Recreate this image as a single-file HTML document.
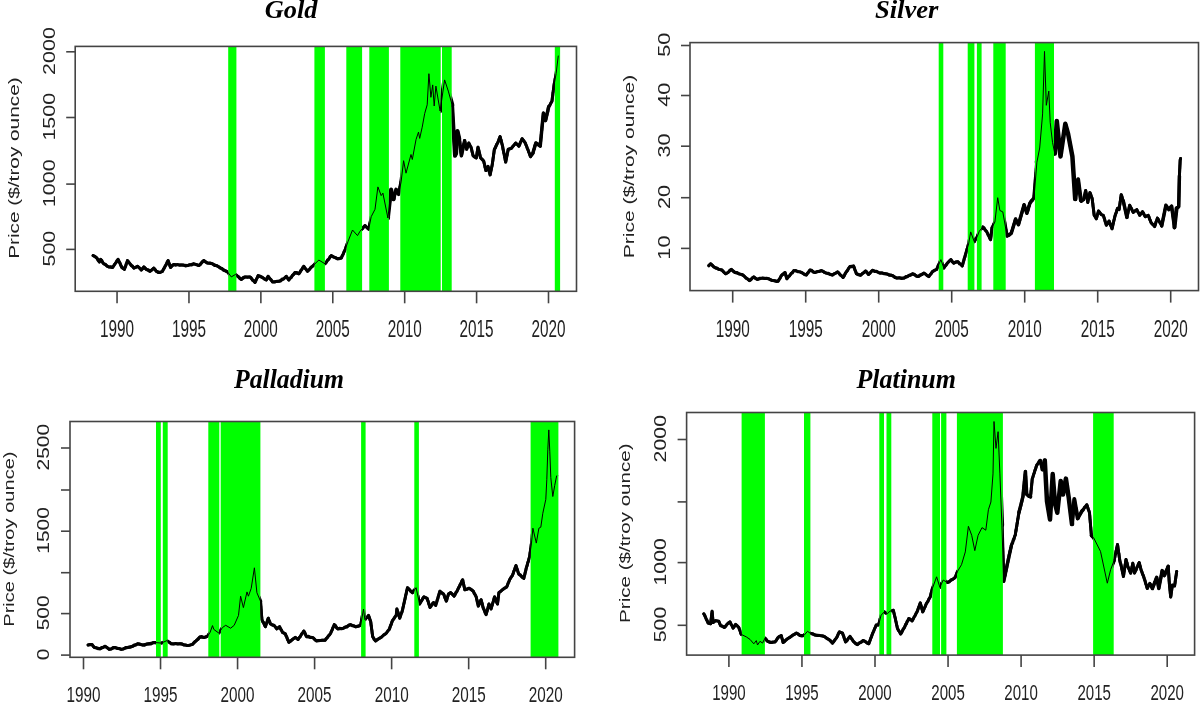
<!DOCTYPE html><html><head><meta charset="utf-8"><title>Precious metals prices</title><style>html,body{margin:0;padding:0;background:#fff;overflow:hidden}svg{display:block;will-change:transform;filter:blur(0.35px)}</style></head><body>
<svg width="1200" height="704" viewBox="0 0 1200 704">
<defs>
<clipPath id="c_gold"><rect x="55.2" y="26.4" width="173" height="284.9"/><rect x="236.4" y="26.4" width="78" height="284.9"/><rect x="324.9" y="26.4" width="21.4" height="284.9"/><rect x="362.1" y="26.4" width="7.2" height="284.9"/><rect x="388.9" y="26.4" width="11.4" height="284.9"/><rect x="440.7" y="26.4" width="1.3" height="284.9"/><rect x="451.7" y="26.4" width="103.1" height="284.9"/><rect x="560.1" y="26.4" width="36.4" height="284.9"/></clipPath>
<clipPath id="c_silver"><rect x="670" y="22.6" width="268.7" height="288"/><rect x="943.3" y="22.6" width="24.4" height="288"/><rect x="974.4" y="22.6" width="2.5" height="288"/><rect x="981.6" y="22.6" width="11.7" height="288"/><rect x="1005.7" y="22.6" width="29.2" height="288"/><rect x="1054" y="22.6" width="164.5" height="288"/></clipPath>
<clipPath id="c_pall"><rect x="50" y="401.5" width="106" height="275.8"/><rect x="160.8" y="401.5" width="2" height="275.8"/><rect x="167.7" y="401.5" width="40.6" height="275.8"/><rect x="219.3" y="401.5" width="1.4" height="275.8"/><rect x="260.4" y="401.5" width="100.7" height="275.8"/><rect x="365.6" y="401.5" width="48.7" height="275.8"/><rect x="418.9" y="401.5" width="111.7" height="275.8"/><rect x="558.4" y="401.5" width="36.2" height="275.8"/></clipPath>
<clipPath id="c_plat"><rect x="666.6" y="392.5" width="75" height="282.6"/><rect x="764.9" y="392.5" width="39.1" height="282.6"/><rect x="810.4" y="392.5" width="68.9" height="282.6"/><rect x="884" y="392.5" width="2.5" height="282.6"/><rect x="891.3" y="392.5" width="41" height="282.6"/><rect x="940" y="392.5" width="1.1" height="282.6"/><rect x="946.4" y="392.5" width="10.5" height="282.6"/><rect x="1002.9" y="392.5" width="90.2" height="282.6"/><rect x="1113.7" y="392.5" width="100.9" height="282.6"/></clipPath>
</defs>
<g font-family='"Liberation Sans", sans-serif'><rect x="228.2" y="46.4" width="8.2" height="244.9" fill="#00ff00"/><rect x="314.4" y="46.4" width="10.5" height="244.9" fill="#00ff00"/><rect x="346.3" y="46.4" width="15.8" height="244.9" fill="#00ff00"/><rect x="369.3" y="46.4" width="19.6" height="244.9" fill="#00ff00"/><rect x="400.3" y="46.4" width="40.4" height="244.9" fill="#00ff00"/><rect x="442" y="46.4" width="9.7" height="244.9" fill="#00ff00"/><rect x="554.8" y="46.4" width="5.3" height="244.9" fill="#00ff00"/><polyline points="93.1,255.6 96.9,258.1 99.4,261.9 100.6,259.4 103.8,263.8 108.8,266.9 112.5,267.5 118.1,259.4 121.9,267.5 124.4,269.4 127.5,260.6 130,263.8 133.8,268.1 137.5,266.3 141.3,270 143.8,266.9 146.3,269.4 150,271.3 153.8,268.1 156.3,271.3 160,272.5 162.5,271.3 168.1,260.6 170.6,267.5 173.8,264.4 181.3,265 187.5,265.6 193.8,263.8 198.8,265.6 203.8,260.6 207.5,263.1 212.5,263.8 218.8,266.9 225,270.6 227.5,271.9 231.3,276.9 235.6,274.4 241.3,279.4 245,276.9 250,276.9 255,282.5 258.1,275.6 262.5,277.5 266.3,280 268.1,276.3 272.5,281.9 278.8,281.3 283.8,278.8 286.3,276.3 288.8,280 295,272.5 298.8,273.8 303.8,266.3 307.5,271.3 312.5,266.3 318.8,260 325,263.8 331.3,255.6 337.5,258.8 341.3,258.1 345,250 348.1,241.3 352.5,230 357.5,235.6 360,231.3 365,225.6 368.7,229.2 371.2,216.7 375,209.3 377.9,186.9 381.2,195.6 382.9,193.1 387.9,218 391.1,189.4 393.6,199.3 396.1,189.4 398.6,194.3 401.1,181.9 403.6,160.7 406,173.2 411,154.5 412.3,159.5 416,139.6 418.5,132.1 419.7,138.4 422.2,127.2 424.7,113.5 427.2,104.8 428.9,73.7 430.9,97.3 432.7,84.9 434.2,106 435.9,86.1 440.1,111 444.6,79.9 448.3,91.1 452.1,104.8 455,155.8 456.1,153.6 457.5,130.9 459.3,138.7 461.4,155.7 464.6,140.8 466.7,149.3 468.8,143 471,147.2 473.1,155.7 476.3,157.9 478,147.2 480.6,157.9 483.7,161.1 485.9,170.6 488,166.4 490.1,174.9 492.3,164.3 494.4,149.3 497.6,143 500.1,136.6 502.3,145.1 505.7,162.1 508.2,149.3 511.4,148.3 515.7,143 518.9,146.2 522.1,138.7 525.3,143 530.6,156.8 532.7,153.6 535.9,143 540.2,146.2 543.4,113.1 545.5,120.6 548.7,106.8 551.9,101.4 554,85.5 556.1,73.7 558.3,55.6" fill="none" stroke="#000" stroke-width="1.0" stroke-linejoin="round"/><g clip-path="url(#c_gold)" fill="none" stroke="#000" stroke-linejoin="round" stroke-linecap="round"><polyline points="93.1,255.6 95,256.38 96.9,258.1 98.15,260.61 99.4,261.9 100.6,259.4 101.67,260.19 102.73,262.69 103.8,263.8 105.47,264.25 107.13,266.42 108.8,266.9 110.65,266.67 112.5,267.5 113.62,266.14 114.74,264.04 115.86,263.04 116.98,260.44 118.1,259.4 119.05,261.76 120,262.99 120.95,265.84 121.9,267.5 124.4,269.4 125.02,267.02 125.64,266.55 126.26,263.71 126.88,263.06 127.5,260.6 128.75,261.96 130,263.8 131.27,265.84 132.53,266.03 133.8,268.1 135.65,267.48 137.5,266.3 139.4,267.59 141.3,270 142.55,268.93 143.8,266.9 146.3,269.4 148.15,269.67 150,271.3 151.9,270.01 153.8,268.1 155.05,269.23 156.3,271.3 158.15,272.54 160,272.5 162.5,271.3 163.43,268.99 164.37,268.09 165.3,265.7 166.23,264.84 167.17,261.94 168.1,260.6 168.72,263.02 169.35,263.77 169.97,266.38 170.6,267.5 172.2,265.34 173.8,264.4 175.68,265.21 177.55,264.48 179.43,265.24 181.3,265 183.37,264.96 185.43,265.98 187.5,265.6 189.6,264.62 191.7,265.08 193.8,263.8 196.3,264.31 198.8,265.6 200.47,264.52 202.13,261.63 203.8,260.6 205.65,262.18 207.5,263.1 210,262.97 212.5,263.8 214.6,265.51 216.7,265.4 218.8,266.9 220.35,268.21 221.9,268.41 223.45,270.27 225,270.6 227.5,271.9 228.77,273.26 230.03,275.74 231.3,276.9 233.45,275.17 235.6,274.4 237.03,276.13 238.45,276.63 239.88,278.68 241.3,279.4 243.15,277.49 245,276.9 247.5,277.27 250,276.9 251.25,277.93 252.5,280.36 253.75,280.61 255,282.5 255.78,281.12 256.55,278.84 257.33,277.9 258.1,275.6 260.3,276.17 262.5,277.5 264.4,279.19 266.3,280 267.2,277.81 268.1,276.3 269.57,278.69 271.03,279.47 272.5,281.9 274.6,282.06 276.7,281.25 278.8,281.3 280.47,281.16 282.13,278.98 283.8,278.8 286.3,276.3 287.55,278.37 288.8,280 290.04,278.01 291.28,277.55 292.52,275.09 293.76,274.57 295,272.5 296.9,272.47 298.8,273.8 299.8,272.8 300.8,270.4 301.8,269.61 302.8,267.47 303.8,266.3 305.03,268.25 306.27,269.37 307.5,271.3 309.17,269.95 310.83,267.34 312.5,266.3 314.07,265.2 315.65,262.55 317.23,262.24 318.8,260 320.35,260.34 321.9,262.13 323.45,262.19 325,263.8 326.26,262.42 327.52,259.93 328.78,259.5 330.04,256.71 331.3,255.6 333.37,257.07 335.43,257.49 337.5,258.8 339.4,258.7 341.3,258.1 342.23,255.55 343.15,254.38 344.07,251.55 345,250 345.62,248.6 346.24,246.23 346.86,245.13 347.48,242.47 348.1,241.3 348.83,239.87 349.57,237.13 350.3,236.1 351.03,233.29 351.77,232.35 352.5,230 353.75,230.97 355,233.48 356.25,233.62 357.5,235.6 358.75,233.77 360,231.3 361.25,229.51 362.5,228.75 363.75,226.64 365,225.6 366.85,227.62 368.7,229.2 369.06,226.74 369.41,226.2 369.77,223.35 370.13,222.82 370.49,219.83 370.84,219.07 371.2,216.7 372.15,214.02 373.1,213.6 374.05,210.51 375,209.3 375.24,207.91 375.48,204.71 375.73,204.41 375.97,201.39 376.21,200.44 376.45,197.49 376.69,196.8 376.93,193.8 377.17,192.87 377.42,190.03 377.66,189.45 377.9,186.9 378.56,187.76 379.22,191.03 379.88,191.47 380.54,194.55 381.2,195.6 382.9,193.1 383.26,194.07 383.61,197.41 383.97,198.07 384.33,200.79 384.69,200.81 385.04,204.82 385.4,204.8 385.76,208.31 386.11,208.57 386.47,211.47 386.83,211.87 387.19,215.39 387.54,215.84 387.9,218 388.11,216.86 388.33,213.05 388.54,213.16 388.75,209.17 388.97,208.91 389.18,205.42 389.39,205.73 389.61,202.36 389.82,201.66 390.03,197.92 390.25,197.58 390.46,194.2 390.67,194.3 390.89,190.27 391.1,189.4 391.6,192.13 392.1,192.93 392.6,196.19 393.1,196.78 393.6,199.3 394.1,198.03 394.6,194.83 395.1,193.93 395.6,190.66 396.1,189.4 396.93,191.85 397.77,191.75 398.6,194.3 398.96,193.1 399.31,190.46 399.67,189.79 400.03,186.69 400.39,186.25 400.74,182.81 401.1,181.9 401.33,180.33 401.55,177.14 401.78,176.68 402.01,173.61 402.24,172.86 402.46,169.58 402.69,168.93 402.92,165.76 403.15,165.11 403.37,162.2 403.6,160.7 403.94,163.02 404.29,163.4 404.63,166.63 404.97,167.35 405.31,170.25 405.66,170.91 406,173.2 406.5,172.55 407,168.41 407.5,168.09 408,165.09 408.5,164.6 409,161.15 409.5,160.82 410,157.42 410.5,157.4 411,154.5 411.65,156.58 412.3,159.5 412.64,158.33 412.97,155.5 413.31,154.69 413.65,151.78 413.98,151.25 414.32,147.8 414.65,147.73 414.99,144.49 415.33,143.89 415.66,141.03 416,139.6 416.62,138.36 417.25,135.18 417.88,134.45 418.5,132.1 418.9,133.71 419.3,137.08 419.7,138.4 420.12,135.91 420.53,135.32 420.95,132.42 421.37,131.29 421.78,128.71 422.2,127.2 422.56,125.74 422.91,122.94 423.27,121.77 423.63,118.64 423.99,118.1 424.34,114.41 424.7,113.5 425.2,112.55 425.7,109.43 426.2,109.61 426.7,106.05 427.2,104.8 427.3,103.72 427.4,99.97 427.5,100.05 427.6,96.12 427.7,96.8 427.8,93.1 427.9,93.26 428,88.84 428.1,89.26 428.2,85.95 428.3,85.2 428.4,81.63 428.5,82.31 428.6,78.13 428.7,78.54 428.8,74.33 428.9,73.7 429.05,76.17 429.21,76.7 429.36,80.42 429.52,79.72 429.67,83.62 429.82,83.91 429.98,86.9 430.13,87.41 430.28,91.35 430.44,91.23 430.59,94.4 430.75,95.03 430.9,97.3 431.2,96.21 431.5,92.69 431.8,92.18 432.1,88.13 432.4,87.8 432.7,84.9 432.84,86.14 432.97,89.45 433.11,89.36 433.25,93.91 433.38,93.33 433.52,97.04 433.65,97.7 433.79,101.02 433.93,100.89 434.06,105.43 434.2,106 434.35,103.55 434.51,103.42 434.66,99.78 434.82,99.63 434.97,96.34 435.13,96.27 435.28,92.15 435.44,92.87 435.59,88.82 435.75,88.76 435.9,86.1 436.2,86.83 436.5,90.21 436.8,90.15 437.1,94.39 437.4,94.35 437.7,97.59 438,97.65 438.3,101.58 438.6,101.01 438.9,104.54 439.2,104.31 439.5,108.77 439.8,107.96 440.1,111 440.36,110.07 440.63,106.46 440.89,106.33 441.16,102.3 441.42,102.74 441.69,98.66 441.95,98.79 442.22,95.92 442.48,95.42 442.75,92.09 443.01,91.55 443.28,88.59 443.54,87.76 443.81,84.54 444.07,84.06 444.34,81.02 444.6,79.9 445.22,82.79 445.83,82.96 446.45,86.23 447.07,86.58 447.68,89.91 448.3,91.1 448.84,92.09 449.39,96.2 449.93,96.52 450.47,99.87 451.01,99.94 451.56,104.16 452.1,104.8 452.2,105.51 452.31,109.13 452.41,109.24 452.51,113.39 452.62,112.55 452.72,116.9 452.83,117.02 452.93,120.16 453.03,120.3 453.14,123.76 453.24,123.67 453.34,127.56 453.45,127.1 453.55,130.73 453.65,130.91 453.76,134.47 453.86,134.84 453.96,138.15 454.07,138.61 454.17,142.25 454.27,141.69 454.38,145.33 454.48,145.89 454.59,149.04 454.69,149.19 454.79,152.72 454.9,153.37 455,155.8 456.1,153.6 456.22,152.92 456.33,149.35 456.45,149.21 456.57,145.35 456.68,145.54 456.8,141.73 456.92,140.87 457.03,137.58 457.15,137.3 457.27,133.63 457.38,133.51 457.5,130.9 457.95,132.3 458.4,135.12 458.85,136.38 459.3,138.7 459.53,140.93 459.77,141.77 460,145.4 460.23,145.49 460.47,148.74 460.7,149.33 460.93,152.87 461.17,152.78 461.4,155.7 461.8,154.16 462.2,151.32 462.6,150.56 463,147.42 463.4,147.09 463.8,143.9 464.2,143.33 464.6,140.8 465.12,142.25 465.65,145.33 466.18,146.75 466.7,149.3 467.4,147.43 468.1,144.81 468.8,143 469.9,145.76 471,147.2 471.52,148.83 472.05,151.76 472.58,153.22 473.1,155.7 474.7,157.22 476.3,157.9 476.58,155.86 476.87,154.94 477.15,152.15 477.43,151 477.72,148.52 478,147.2 478.43,149.4 478.87,150.18 479.3,152.89 479.73,154.01 480.17,156.57 480.6,157.9 482.15,159.09 483.7,161.1 484.14,163.27 484.58,164.33 485.02,167.43 485.46,168.08 485.9,170.6 486.95,169.03 488,166.4 488.52,168.04 489.05,171.3 489.58,172.43 490.1,174.9 490.47,173.4 490.83,171.05 491.2,170.08 491.57,167.52 491.93,166.5 492.3,164.3 492.56,161.77 492.82,161.1 493.09,158.35 493.35,157.09 493.61,154.7 493.88,153.3 494.14,150.81 494.4,149.3 495.47,147.8 496.53,144.44 497.6,143 498.43,141.35 499.27,138.45 500.1,136.6 500.65,139.29 501.2,140.06 501.75,143.23 502.3,145.1 502.68,146.45 503.06,149.61 503.43,150.38 503.81,153.18 504.19,153.91 504.57,156.99 504.94,158.01 505.32,160.83 505.7,162.1 506.06,159.76 506.41,158.99 506.77,156.1 507.13,155.41 507.49,152.46 507.84,151.8 508.2,149.3 511.4,148.3 512.83,146.27 514.27,144.99 515.7,143 517.3,144.32 518.9,146.2 519.7,144.78 520.5,141.89 521.3,141.23 522.1,138.7 523.7,140.64 525.3,143 525.96,144.94 526.62,146.05 527.29,148.71 527.95,149.49 528.61,151.97 529.27,153.04 529.94,155.63 530.6,156.8 531.65,154.69 532.7,153.6 533.23,152.82 533.77,149.53 534.3,148.95 534.83,145.54 535.37,145.57 535.9,143 538.05,144.15 540.2,146.2 540.38,145.25 540.56,141.85 540.73,141.08 540.91,138.44 541.09,137.71 541.27,134.6 541.44,133.85 541.62,130.61 541.8,130.17 541.98,127.14 542.16,126.69 542.33,123.8 542.51,123.24 542.69,119.92 542.87,119.07 543.04,116.06 543.22,115.43 543.4,113.1 543.92,114.65 544.45,117.23 544.98,118.39 545.5,120.6 545.96,119.29 546.41,116.02 546.87,115.23 547.33,112.2 547.79,111.82 548.24,107.92 548.7,106.8 549.77,105.63 550.83,102.93 551.9,101.4 552.16,100.4 552.42,97.09 552.69,96.31 552.95,92.66 553.21,92.07 553.48,88.92 553.74,88.19 554,85.5 554.35,82.81 554.7,82.48 555.05,79.25 555.4,78 555.75,74.91 556.1,73.7 556.32,72.5 556.54,69.22 556.76,68.96 556.98,66.06 557.2,65.72 557.42,62.31 557.64,61.68 557.86,58.22 558.08,58.56 558.3,55.6" stroke-width="2.9"/><polyline points="93.1,255.6 96.9,258.1 99.4,261.9 100.6,259.4 103.8,263.8 108.8,266.9 112.5,267.5 118.1,259.4 121.9,267.5 124.4,269.4 127.5,260.6 130,263.8 133.8,268.1 137.5,266.3 141.3,270 143.8,266.9 146.3,269.4 150,271.3 153.8,268.1 156.3,271.3 160,272.5 162.5,271.3 168.1,260.6 170.6,267.5 173.8,264.4 181.3,265 187.5,265.6 193.8,263.8 198.8,265.6 203.8,260.6 207.5,263.1 212.5,263.8 218.8,266.9 225,270.6 227.5,271.9 231.3,276.9 235.6,274.4 241.3,279.4 245,276.9 250,276.9 255,282.5 258.1,275.6 262.5,277.5 266.3,280 268.1,276.3 272.5,281.9 278.8,281.3 283.8,278.8 286.3,276.3 288.8,280 295,272.5 298.8,273.8 303.8,266.3 307.5,271.3 312.5,266.3 318.8,260 325,263.8 331.3,255.6 337.5,258.8 341.3,258.1 345,250 348.1,241.3 352.5,230 357.5,235.6 360,231.3 365,225.6 368.7,229.2 371.2,216.7 375,209.3 377.9,186.9" stroke-width="3.0"/><polyline points="377.9,186.9 381.2,195.6" stroke-width="3.5"/><polyline points="381.2,195.6 382.9,193.1" stroke-width="4.0"/><polyline points="382.9,193.1 387.9,218" stroke-width="4.5"/><polyline points="387.9,218 391.1,189.4 393.6,199.3" stroke-width="4.0"/><polyline points="393.6,199.3 396.1,189.4 398.6,194.3 401.1,181.9 403.6,160.7 406,173.2" stroke-width="3.5"/><polyline points="406,173.2 411,154.5" stroke-width="4.0"/><polyline points="411,154.5 412.3,159.5 416,139.6" stroke-width="3.5"/><polyline points="416,139.6 418.5,132.1 419.7,138.4 422.2,127.2 424.7,113.5" stroke-width="3.0"/><polyline points="424.7,113.5 427.2,104.8" stroke-width="3.5"/><polyline points="427.2,104.8 428.9,73.7" stroke-width="4.0"/><polyline points="428.9,73.7 430.9,97.3 432.7,84.9 434.2,106 435.9,86.1 440.1,111 444.6,79.9 448.3,91.1 452.1,104.8" stroke-width="4.5"/><polyline points="452.1,104.8 455,155.8 456.1,153.6 457.5,130.9 459.3,138.7" stroke-width="4.0"/><polyline points="459.3,138.7 461.4,155.7 464.6,140.8" stroke-width="3.5"/><polyline points="464.6,140.8 466.7,149.3 468.8,143 471,147.2 473.1,155.7 476.3,157.9 478,147.2 480.6,157.9 483.7,161.1 485.9,170.6 488,166.4 490.1,174.9 492.3,164.3 494.4,149.3 497.6,143 500.1,136.6 502.3,145.1 505.7,162.1 508.2,149.3 511.4,148.3 515.7,143 518.9,146.2 522.1,138.7 525.3,143 530.6,156.8 532.7,153.6" stroke-width="3.0"/><polyline points="532.7,153.6 535.9,143 540.2,146.2 543.4,113.1 545.5,120.6 548.7,106.8" stroke-width="3.5"/><polyline points="548.7,106.8 551.9,101.4 554,85.5 556.1,73.7 558.3,55.6" stroke-width="3.0"/></g><rect x="75.2" y="46.4" width="501.3" height="244.9" fill="none" stroke="#444" stroke-width="1.6"/><line x1="117.05" y1="291.3" x2="117.05" y2="303.3" stroke="#444" stroke-width="1.6"/><text transform="translate(117.05,337) scale(0.665,1)" text-anchor="middle" font-size="23.0" fill="#222">1990</text><line x1="188.96" y1="291.3" x2="188.96" y2="303.3" stroke="#444" stroke-width="1.6"/><text transform="translate(188.96,337) scale(0.665,1)" text-anchor="middle" font-size="23.0" fill="#222">1995</text><line x1="260.87" y1="291.3" x2="260.87" y2="303.3" stroke="#444" stroke-width="1.6"/><text transform="translate(260.87,337) scale(0.665,1)" text-anchor="middle" font-size="23.0" fill="#222">2000</text><line x1="332.77" y1="291.3" x2="332.77" y2="303.3" stroke="#444" stroke-width="1.6"/><text transform="translate(332.77,337) scale(0.665,1)" text-anchor="middle" font-size="23.0" fill="#222">2005</text><line x1="404.68" y1="291.3" x2="404.68" y2="303.3" stroke="#444" stroke-width="1.6"/><text transform="translate(404.68,337) scale(0.665,1)" text-anchor="middle" font-size="23.0" fill="#222">2010</text><line x1="476.59" y1="291.3" x2="476.59" y2="303.3" stroke="#444" stroke-width="1.6"/><text transform="translate(476.59,337) scale(0.665,1)" text-anchor="middle" font-size="23.0" fill="#222">2015</text><line x1="548.5" y1="291.3" x2="548.5" y2="303.3" stroke="#444" stroke-width="1.6"/><text transform="translate(548.5,337) scale(0.665,1)" text-anchor="middle" font-size="23.0" fill="#222">2020</text><line x1="66.2" y1="249.4" x2="75.2" y2="249.4" stroke="#444" stroke-width="1.6"/><text transform="translate(54.6,248.6) scale(0.77,1) rotate(-90)" text-anchor="middle" font-size="21.5" fill="#222">500</text><line x1="66.2" y1="184.1" x2="75.2" y2="184.1" stroke="#444" stroke-width="1.6"/><text transform="translate(54.6,183.3) scale(0.77,1) rotate(-90)" text-anchor="middle" font-size="21.5" fill="#222">1000</text><line x1="66.2" y1="117.5" x2="75.2" y2="117.5" stroke="#444" stroke-width="1.6"/><text transform="translate(54.6,116.7) scale(0.77,1) rotate(-90)" text-anchor="middle" font-size="21.5" fill="#222">1500</text><line x1="66.2" y1="51.8" x2="75.2" y2="51.8" stroke="#444" stroke-width="1.6"/><text transform="translate(54.6,51) scale(0.77,1) rotate(-90)" text-anchor="middle" font-size="21.5" fill="#222">2000</text><text transform="translate(18.8,168.1) scale(0.72,1) rotate(-90)" text-anchor="middle" font-size="20.7" fill="#222" textLength="181.5" lengthAdjust="spacingAndGlyphs">Price ($/troy ounce)</text><text x="264.8" y="18" font-family='"Liberation Serif", serif' font-weight="bold" font-style="italic" font-size="24.8" textLength="52.7" lengthAdjust="spacingAndGlyphs">Gold</text></g>
<g font-family='"Liberation Sans", sans-serif'><rect x="938.7" y="42.6" width="4.6" height="248" fill="#00ff00"/><rect x="967.7" y="42.6" width="6.7" height="248" fill="#00ff00"/><rect x="976.9" y="42.6" width="4.7" height="248" fill="#00ff00"/><rect x="993.3" y="42.6" width="12.4" height="248" fill="#00ff00"/><rect x="1034.9" y="42.6" width="19.1" height="248" fill="#00ff00"/><polyline points="708.8,265.6 710.6,263.8 713.8,266.9 718.8,269.4 721.9,270 725.6,273.8 728.1,272.5 731.3,269.4 735,272.5 741.3,274.4 744.4,276.3 749.4,280.6 753.8,276.9 757.5,279.4 762.5,278.1 768.8,278.8 772.5,280.6 778.1,281.3 781.9,275 785,272.5 786.9,278.8 793.8,270.6 800,271.9 806.3,275 810,270 815,272.5 821.3,270.6 826.3,273.1 832.5,275 837.5,271.9 843.1,277.5 846.3,271.9 850,266.5 853.6,266 856.4,273.8 860.7,275.2 865.6,271 868.5,274.5 872.7,270.3 878.4,272.4 885.5,273.8 891.2,275.2 896.9,278.1 904,278.1 912.5,273.8 918.2,276.6 923.9,273.1 928.8,276.6 932.4,271.7 936.6,269.5 940.9,259.6 943.8,268.1 947.3,263.2 950.9,259.6 953.7,263.2 958,261.7 962.2,266 966.5,251.1 968.6,244 970.7,231.9 974.3,241.8 977.1,236.9 979.3,231.2 982.8,226.9 986.4,231.2 990.6,239.7 992,227.6 994.9,222 997.7,197.7 999.9,210.5 1002.8,211.9 1007,236 1011.3,233.2 1015.6,219 1018.4,224.7 1024.1,204.8 1026.9,213.3 1029.8,203.4 1034,197.7 1036.9,162.2 1039.7,148 1042.6,113.9 1044.5,51.4 1046.3,105.3 1048.8,91.1 1050.2,122.4 1052.5,142.3 1054.8,153.6 1056.8,121 1060.5,156.5 1065.3,123.8 1068.1,133.8 1072.4,156.5 1075.2,199.1 1078.1,179.2 1080.9,200.5 1081.4,201.1 1083.6,199.7 1085.7,190.4 1087.8,202.5 1089.9,192.6 1092.1,198.2 1094.2,215.3 1096.3,218.8 1098.5,211 1101.3,214.6 1103.4,215.3 1106.3,225.2 1109.1,221 1112,228.8 1114.8,216.7 1117.6,208.2 1119.1,209.6 1121.2,194.7 1123.3,201.1 1126.9,217.4 1129.7,205.3 1133.3,212.4 1136.8,209.6 1139.7,215.3 1142.5,211.7 1145.3,216.7 1148.2,215.3 1151,222.4 1154.6,226.6 1157.4,218.1 1161.7,225.9 1165.9,205.3 1168.8,209.6 1171.6,206.1 1174.5,227.4 1176.6,208.2 1178.7,206.8 1179.4,176 1180.2,160 1180.6,158.5" fill="none" stroke="#000" stroke-width="1.0" stroke-linejoin="round"/><g clip-path="url(#c_silver)" fill="none" stroke="#000" stroke-linejoin="round" stroke-linecap="round"><polyline points="708.8,265.6 710.6,263.8 712.2,264.87 713.8,266.9 715.47,268.01 717.13,268.01 718.8,269.4 721.9,270 723.75,272.26 725.6,273.8 728.1,272.5 729.7,270.28 731.3,269.4 733.15,271.25 735,272.5 737.1,272.55 739.2,274.06 741.3,274.4 742.85,274.67 744.4,276.3 746.07,278.37 747.73,278.9 749.4,280.6 750.87,279.89 752.33,277.82 753.8,276.9 755.65,278.61 757.5,279.4 760,278.12 762.5,278.1 764.6,278.62 766.7,278.25 768.8,278.8 770.65,279.95 772.5,280.6 774.37,280.59 776.23,281.52 778.1,281.3 779.05,279.44 780,278.42 780.95,276.02 781.9,275 783.45,274.1 785,272.5 785.63,274.22 786.27,277.08 786.9,278.8 788.28,276.54 789.66,275.86 791.04,273.35 792.42,272.91 793.8,270.6 795.87,270.54 797.93,271.82 800,271.9 802.1,272.66 804.2,274.5 806.3,275 807.53,273.04 808.77,272.07 810,270 811.67,270.22 813.33,272.26 815,272.5 817.1,271.52 819.2,271.62 821.3,270.6 822.97,271.08 824.63,272.62 826.3,273.1 828.37,273.28 830.43,274.63 832.5,275 834.17,273.7 835.83,273.22 837.5,271.9 838.9,272.93 840.3,275.17 841.7,275.73 843.1,277.5 844.17,276.05 845.23,273.18 846.3,271.9 847.53,270.69 848.77,267.88 850,266.5 851.8,266.89 853.6,266 854.3,267.74 855,270.4 855.7,271.3 856.4,273.8 858.55,274.91 860.7,275.2 862.33,273.38 863.97,272.74 865.6,271 867.05,272.16 868.5,274.5 869.9,273.4 871.3,271.21 872.7,270.3 874.6,271.56 876.5,271.08 878.4,272.4 880.17,273.41 881.95,272.81 883.73,273.74 885.5,273.8 887.4,273.92 889.3,275.35 891.2,275.2 893.1,275.67 895,277.7 896.9,278.1 899.27,277.68 901.63,278.57 904,278.1 905.7,276.55 907.4,276.78 909.1,275.1 910.8,275.19 912.5,273.8 914.4,274.1 916.3,276.32 918.2,276.6 920.1,274.96 922,274.5 923.9,273.1 925.53,274.01 927.17,275.66 928.8,276.6 930,274.76 931.2,273.86 932.4,271.7 934.5,270.21 936.6,269.5 937.46,267.77 938.32,264.93 939.18,264.06 940.04,261.12 940.9,259.6 941.62,262.35 942.35,263.59 943.07,266.41 943.8,268.1 944.97,265.97 946.13,265.28 947.3,263.2 949.1,261.08 950.9,259.6 952.3,261.99 953.7,263.2 955.85,261.82 958,261.7 959.4,263.83 960.8,264.06 962.2,266 962.74,264.44 963.28,261.95 963.81,260.64 964.35,257.86 964.89,257.11 965.42,254.48 965.96,253.18 966.5,251.1 967.02,248.92 967.55,248.31 968.08,245.18 968.6,244 968.95,242.27 969.3,239.61 969.65,238.7 970,235.52 970.35,234.57 970.7,231.9 971.42,233.35 972.14,236.1 972.86,237.2 973.58,240.44 974.3,241.8 975.23,239.5 976.17,238.8 977.1,236.9 977.83,234.67 978.57,233.47 979.3,231.2 980.47,229.15 981.63,228.82 982.8,226.9 984,227.65 985.2,230.36 986.4,231.2 987.24,232.65 988.08,235.1 988.92,236.05 989.76,238.61 990.6,239.7 990.83,237.41 991.07,236.1 991.3,233.01 991.53,232.41 991.77,229.28 992,227.6 992.97,226.62 993.93,223.49 994.9,222 995.12,220.64 995.33,217.51 995.55,216.95 995.76,213.83 995.98,213.22 996.19,210.1 996.41,209.68 996.62,206.47 996.84,205.57 997.05,203.03 997.27,202 997.48,199.16 997.7,197.7 998.01,200.09 998.33,200.88 998.64,203.65 998.96,203.94 999.27,207.43 999.59,207.65 999.9,210.5 1002.8,211.9 1003.12,214.04 1003.45,215.01 1003.77,218.28 1004.09,218.67 1004.42,221.57 1004.74,222.34 1005.06,225.48 1005.38,226.14 1005.71,229.19 1006.03,229.75 1006.35,233.05 1006.68,233.85 1007,236 1009.15,235.36 1011.3,233.2 1011.84,230.64 1012.38,230.25 1012.91,227.48 1013.45,226.59 1013.99,223.96 1014.52,223.45 1015.06,220.29 1015.6,219 1016.53,221.2 1017.47,222.3 1018.4,224.7 1018.92,223.64 1019.44,220.69 1019.95,220.1 1020.47,216.55 1020.99,216.37 1021.51,213.52 1022.03,212.81 1022.55,209.38 1023.06,208.97 1023.58,205.76 1024.1,204.8 1024.8,207.36 1025.5,208.77 1026.2,211.88 1026.9,213.3 1027.48,210.71 1028.06,210.51 1028.64,206.34 1029.22,206.13 1029.8,203.4 1031.2,200.66 1032.6,200.4 1034,197.7 1034.15,195.08 1034.31,195.17 1034.46,190.86 1034.61,190.85 1034.76,187.33 1034.92,187.66 1035.07,183.71 1035.22,183.95 1035.37,179.54 1035.53,180.17 1035.68,176.56 1035.83,176.63 1035.98,172.12 1036.14,172.27 1036.29,168.45 1036.44,168.3 1036.59,164.75 1036.75,165.04 1036.9,162.2 1037.25,159.14 1037.6,159.49 1037.95,155.76 1038.3,156.31 1038.65,152.12 1039,152.22 1039.35,149.28 1039.7,148 1039.85,147.02 1040.01,143.69 1040.16,144 1040.31,140.34 1040.46,140.27 1040.62,136.11 1040.77,136.65 1040.92,133.05 1041.07,133.08 1041.23,128.75 1041.38,129.52 1041.53,125.38 1041.68,125.73 1041.84,121.68 1041.99,122.36 1042.14,118.04 1042.29,117.98 1042.45,115.22 1042.6,113.9 1042.66,113.02 1042.71,109.8 1042.77,109.52 1042.82,105.32 1042.88,105.54 1042.94,101.95 1042.99,101.68 1043.05,98.47 1043.1,98.18 1043.16,94.82 1043.21,94.85 1043.27,91.11 1043.33,90.89 1043.38,87.32 1043.44,87.33 1043.49,83.54 1043.55,83.08 1043.61,79.5 1043.66,79.93 1043.72,76.13 1043.77,76.65 1043.83,72.43 1043.89,72.73 1043.94,68.64 1044,68.73 1044.05,65.16 1044.11,65.13 1044.16,61.21 1044.22,61.67 1044.28,57.46 1044.33,57.43 1044.39,54.2 1044.44,53.79 1044.5,51.4 1044.56,52.05 1044.62,55.76 1044.69,56.53 1044.75,59.53 1044.81,59.87 1044.87,63.76 1044.93,63.4 1045,67.39 1045.06,66.85 1045.12,70.77 1045.18,71.34 1045.24,74.29 1045.31,74.4 1045.37,77.94 1045.43,78.28 1045.49,82.36 1045.56,82.47 1045.62,85.5 1045.68,85.35 1045.74,89.74 1045.8,89.55 1045.87,92.78 1045.93,92.95 1045.99,96.92 1046.05,96.54 1046.11,100.66 1046.18,101.06 1046.24,104.75 1046.3,105.3 1046.61,102.24 1046.92,102.57 1047.24,98.96 1047.55,99.56 1047.86,95.86 1048.17,95.8 1048.49,92.3 1048.8,91.1 1048.88,94.13 1048.96,93.43 1049.05,97.05 1049.13,97.61 1049.21,101.46 1049.29,101.09 1049.38,105.36 1049.46,104.43 1049.54,108.21 1049.62,108.46 1049.71,112.22 1049.79,112.69 1049.87,116.05 1049.95,115.99 1050.04,120 1050.12,119.9 1050.2,122.4 1050.41,124.9 1050.62,124.69 1050.83,129.18 1051.04,128.68 1051.25,132.83 1051.45,132.71 1051.66,135.91 1051.87,136.43 1052.08,139.96 1052.29,139.96 1052.5,142.3 1052.88,145.47 1053.27,144.81 1053.65,149.16 1054.03,148.8 1054.42,152.58 1054.8,153.6 1054.91,150.86 1055.02,150.6 1055.13,146.77 1055.24,146.93 1055.36,143.23 1055.47,143.87 1055.58,139.53 1055.69,140.45 1055.8,136.46 1055.91,136.75 1056.02,132.36 1056.13,133.02 1056.24,129.59 1056.36,129.23 1056.47,125.14 1056.58,125.76 1056.69,122.18 1056.8,121 1056.99,123.76 1057.19,124.12 1057.38,127.05 1057.58,127.64 1057.77,130.89 1057.97,131.01 1058.16,134.93 1058.36,134.79 1058.55,138.59 1058.75,138.57 1058.94,142.69 1059.14,142.34 1059.33,146.67 1059.53,145.8 1059.72,149.82 1059.92,149.78 1060.11,153.79 1060.31,153.66 1060.5,156.5 1060.77,156.01 1061.03,152.36 1061.3,152.45 1061.57,148.24 1061.83,148.42 1062.1,144.23 1062.37,144.84 1062.63,140.88 1062.9,140.69 1063.17,137.61 1063.43,137.59 1063.7,133.43 1063.97,133.55 1064.23,130.35 1064.5,130.01 1064.77,126.49 1065.03,126.75 1065.3,123.8 1065.86,124.54 1066.42,128.74 1066.98,128.99 1067.54,132.6 1068.1,133.8 1068.46,134.57 1068.82,138.67 1069.17,138.1 1069.53,142.05 1069.89,141.92 1070.25,146.38 1070.61,145.65 1070.97,150.08 1071.33,149.49 1071.68,153.75 1072.04,153.43 1072.4,156.5 1072.52,159.16 1072.64,159.14 1072.77,162.84 1072.89,162.69 1073.01,166.83 1073.13,166.47 1073.25,170.33 1073.37,170.44 1073.5,173.95 1073.62,173.76 1073.74,178.21 1073.86,177.35 1073.98,181.55 1074.1,181.79 1074.23,185.05 1074.35,185.4 1074.47,188.92 1074.59,189.04 1074.71,192.45 1074.83,192.34 1074.96,196.47 1075.08,196.04 1075.2,199.1 1075.46,198.02 1075.73,194.83 1075.99,194.87 1076.25,191.15 1076.52,190.7 1076.78,186.97 1077.05,187 1077.31,183.42 1077.57,183.95 1077.84,180.51 1078.1,179.2 1078.35,181.6 1078.61,182.02 1078.86,185.66 1079.12,186.41 1079.37,189.87 1079.63,189.97 1079.88,193.26 1080.14,193.99 1080.39,197.97 1080.65,197.92 1080.9,200.5 1081.4,201.1 1083.6,199.7 1084.02,198.4 1084.44,195.46 1084.86,194.54 1085.28,191.68 1085.7,190.4 1086.05,192.91 1086.4,194.03 1086.75,197.12 1087.1,198.03 1087.45,201.1 1087.8,202.5 1088.22,199.66 1088.64,198.95 1089.06,195.7 1089.48,195.31 1089.9,192.6 1090.63,193.79 1091.37,197.01 1092.1,198.2 1092.33,199.64 1092.57,202.6 1092.8,203.2 1093.03,206.21 1093.27,207.27 1093.5,209.95 1093.73,211.27 1093.97,213.85 1094.2,215.3 1095.25,216.46 1096.3,218.8 1096.85,217.26 1097.4,214.45 1097.95,213.4 1098.5,211 1099.9,212.51 1101.3,214.6 1103.4,215.3 1103.98,217.73 1104.56,218.75 1105.14,221.69 1105.72,222.9 1106.3,225.2 1107.7,223.66 1109.1,221 1109.82,222.7 1110.55,225.48 1111.28,226.25 1112,228.8 1112.47,227.4 1112.93,224.47 1113.4,223.07 1113.87,220.18 1114.33,219.36 1114.8,216.7 1115.5,213.91 1116.2,212.73 1116.9,209.9 1117.6,208.2 1119.1,209.6 1119.36,208.25 1119.62,205.49 1119.89,204.49 1120.15,201.77 1120.41,200.82 1120.67,197.68 1120.94,197.16 1121.2,194.7 1121.9,196.14 1122.6,199.31 1123.3,201.1 1123.7,202.42 1124.1,205.08 1124.5,205.73 1124.9,208.73 1125.3,209.73 1125.7,212.6 1126.1,213.09 1126.5,216.3 1126.9,217.4 1127.37,214.92 1127.83,213.65 1128.3,210.69 1128.77,209.98 1129.23,206.83 1129.7,205.3 1130.6,207.7 1131.5,208.35 1132.4,211.08 1133.3,212.4 1135.05,210.72 1136.8,209.6 1137.77,211.95 1138.73,212.98 1139.7,215.3 1141.1,213.84 1142.5,211.7 1143.43,212.87 1144.37,215.26 1145.3,216.7 1148.2,215.3 1148.9,216.44 1149.6,219.44 1150.3,220.2 1151,222.4 1152.2,224.15 1153.4,224.54 1154.6,226.6 1155.3,224.94 1156,221.65 1156.7,220.54 1157.4,218.1 1158.48,219.41 1159.55,222.31 1160.62,223.44 1161.7,225.9 1162.08,224.38 1162.46,221.82 1162.85,220.53 1163.23,218.16 1163.61,217.15 1163.99,214.42 1164.37,213.31 1164.75,210.21 1165.14,209.36 1165.52,206.79 1165.9,205.3 1167.35,208.14 1168.8,209.6 1170.2,207.25 1171.6,206.1 1171.86,208.73 1172.13,209.3 1172.39,212.66 1172.65,213.11 1172.92,216.28 1173.18,217.26 1173.45,220.41 1173.71,221.3 1173.97,224.04 1174.24,225.06 1174.5,227.4 1174.71,226.23 1174.92,222.93 1175.13,222.45 1175.34,218.77 1175.55,218.73 1175.76,215.08 1175.97,214.72 1176.18,211.41 1176.39,211.17 1176.6,208.2 1178.7,206.8 1178.74,204.41 1178.78,204.13 1178.82,201 1178.86,200.27 1178.91,196.82 1178.95,196.95 1178.99,193.38 1179.03,193.02 1179.07,189.93 1179.11,189.34 1179.15,186.42 1179.19,185.48 1179.24,182.75 1179.28,182.48 1179.32,179.13 1179.36,178.58 1179.4,176 1179.5,173.29 1179.6,172.85 1179.7,169.14 1179.8,168.45 1179.9,165.64 1180,164.34 1180.1,161.54 1180.2,160 1180.6,158.5" stroke-width="2.9"/><polyline points="708.8,265.6 710.6,263.8 713.8,266.9 718.8,269.4 721.9,270 725.6,273.8 728.1,272.5 731.3,269.4 735,272.5 741.3,274.4 744.4,276.3 749.4,280.6 753.8,276.9 757.5,279.4 762.5,278.1 768.8,278.8 772.5,280.6 778.1,281.3 781.9,275 785,272.5 786.9,278.8 793.8,270.6 800,271.9 806.3,275 810,270 815,272.5 821.3,270.6 826.3,273.1 832.5,275 837.5,271.9 843.1,277.5 846.3,271.9 850,266.5 853.6,266 856.4,273.8 860.7,275.2 865.6,271 868.5,274.5 872.7,270.3 878.4,272.4 885.5,273.8 891.2,275.2 896.9,278.1 904,278.1 912.5,273.8 918.2,276.6 923.9,273.1 928.8,276.6 932.4,271.7 936.6,269.5 940.9,259.6 943.8,268.1 947.3,263.2 950.9,259.6 953.7,263.2 958,261.7 962.2,266 966.5,251.1 968.6,244 970.7,231.9 974.3,241.8 977.1,236.9 979.3,231.2 982.8,226.9 986.4,231.2 990.6,239.7 992,227.6 994.9,222" stroke-width="3.0"/><polyline points="994.9,222 997.7,197.7 999.9,210.5 1002.8,211.9 1007,236 1011.3,233.2 1015.6,219 1018.4,224.7 1024.1,204.8 1026.9,213.3 1029.8,203.4 1034,197.7 1036.9,162.2" stroke-width="3.5"/><polyline points="1036.9,162.2 1039.7,148 1042.6,113.9 1044.5,51.4 1046.3,105.3 1048.8,91.1 1050.2,122.4 1052.5,142.3 1054.8,153.6 1056.8,121 1060.5,156.5 1065.3,123.8 1068.1,133.8 1072.4,156.5 1075.2,199.1" stroke-width="4.5"/><polyline points="1075.2,199.1 1078.1,179.2 1080.9,200.5" stroke-width="4.0"/><polyline points="1080.9,200.5 1081.4,201.1" stroke-width="3.5"/><polyline points="1081.4,201.1 1083.6,199.7 1085.7,190.4 1087.8,202.5 1089.9,192.6 1092.1,198.2 1094.2,215.3 1096.3,218.8 1098.5,211 1101.3,214.6 1103.4,215.3 1106.3,225.2 1109.1,221 1112,228.8 1114.8,216.7 1117.6,208.2 1119.1,209.6 1121.2,194.7 1123.3,201.1" stroke-width="3.0"/><polyline points="1123.3,201.1 1126.9,217.4" stroke-width="3.5"/><polyline points="1126.9,217.4 1129.7,205.3 1133.3,212.4 1136.8,209.6 1139.7,215.3 1142.5,211.7 1145.3,216.7 1148.2,215.3 1151,222.4 1154.6,226.6 1157.4,218.1 1161.7,225.9" stroke-width="3.0"/><polyline points="1161.7,225.9 1165.9,205.3 1168.8,209.6 1171.6,206.1 1174.5,227.4" stroke-width="3.5"/><polyline points="1174.5,227.4 1176.6,208.2" stroke-width="4.0"/><polyline points="1176.6,208.2 1178.7,206.8 1179.4,176" stroke-width="3.5"/><polyline points="1179.4,176 1180.2,160 1180.6,158.5" stroke-width="3.0"/></g><rect x="690" y="42.6" width="508.5" height="248" fill="none" stroke="#444" stroke-width="1.6"/><line x1="732.7" y1="290.6" x2="732.7" y2="302.6" stroke="#444" stroke-width="1.6"/><text transform="translate(732.7,337.3) scale(0.665,1)" text-anchor="middle" font-size="23.0" fill="#222">1990</text><line x1="805.7" y1="290.6" x2="805.7" y2="302.6" stroke="#444" stroke-width="1.6"/><text transform="translate(805.7,337.3) scale(0.665,1)" text-anchor="middle" font-size="23.0" fill="#222">1995</text><line x1="878.7" y1="290.6" x2="878.7" y2="302.6" stroke="#444" stroke-width="1.6"/><text transform="translate(878.7,337.3) scale(0.665,1)" text-anchor="middle" font-size="23.0" fill="#222">2000</text><line x1="951.7" y1="290.6" x2="951.7" y2="302.6" stroke="#444" stroke-width="1.6"/><text transform="translate(951.7,337.3) scale(0.665,1)" text-anchor="middle" font-size="23.0" fill="#222">2005</text><line x1="1024.7" y1="290.6" x2="1024.7" y2="302.6" stroke="#444" stroke-width="1.6"/><text transform="translate(1024.7,337.3) scale(0.665,1)" text-anchor="middle" font-size="23.0" fill="#222">2010</text><line x1="1097.7" y1="290.6" x2="1097.7" y2="302.6" stroke="#444" stroke-width="1.6"/><text transform="translate(1097.7,337.3) scale(0.665,1)" text-anchor="middle" font-size="23.0" fill="#222">2015</text><line x1="1170.7" y1="290.6" x2="1170.7" y2="302.6" stroke="#444" stroke-width="1.6"/><text transform="translate(1170.7,337.3) scale(0.665,1)" text-anchor="middle" font-size="23.0" fill="#222">2020</text><line x1="681" y1="248.4" x2="690" y2="248.4" stroke="#444" stroke-width="1.6"/><text transform="translate(669.6,247.6) scale(0.77,1) rotate(-90)" text-anchor="middle" font-size="21.7" fill="#222">10</text><line x1="681" y1="197.7" x2="690" y2="197.7" stroke="#444" stroke-width="1.6"/><text transform="translate(669.6,196.9) scale(0.77,1) rotate(-90)" text-anchor="middle" font-size="21.7" fill="#222">20</text><line x1="681" y1="146.2" x2="690" y2="146.2" stroke="#444" stroke-width="1.6"/><text transform="translate(669.6,145.4) scale(0.77,1) rotate(-90)" text-anchor="middle" font-size="21.7" fill="#222">30</text><line x1="681" y1="95.5" x2="690" y2="95.5" stroke="#444" stroke-width="1.6"/><text transform="translate(669.6,94.7) scale(0.77,1) rotate(-90)" text-anchor="middle" font-size="21.7" fill="#222">40</text><line x1="681" y1="45.5" x2="690" y2="45.5" stroke="#444" stroke-width="1.6"/><text transform="translate(669.6,44.7) scale(0.77,1) rotate(-90)" text-anchor="middle" font-size="21.7" fill="#222">50</text><text transform="translate(633.9,166.5) scale(0.72,1) rotate(-90)" text-anchor="middle" font-size="20.7" fill="#222" textLength="183.5" lengthAdjust="spacingAndGlyphs">Price ($/troy ounce)</text><text x="874.9" y="17.9" font-family='"Liberation Serif", serif' font-weight="bold" font-style="italic" font-size="24.8" textLength="63.5" lengthAdjust="spacingAndGlyphs">Silver</text></g>
<g font-family='"Liberation Sans", sans-serif'><rect x="156" y="421.5" width="4.8" height="235.8" fill="#00ff00"/><rect x="162.8" y="421.5" width="4.9" height="235.8" fill="#00ff00"/><rect x="208.3" y="421.5" width="11" height="235.8" fill="#00ff00"/><rect x="220.7" y="421.5" width="39.7" height="235.8" fill="#00ff00"/><rect x="361.1" y="421.5" width="4.5" height="235.8" fill="#00ff00"/><rect x="414.3" y="421.5" width="4.6" height="235.8" fill="#00ff00"/><rect x="530.6" y="421.5" width="27.8" height="235.8" fill="#00ff00"/><polyline points="88.1,645 91.9,644.4 94.4,647.5 100,648.8 105,646.3 109.4,649.4 115,647.5 121.3,649.4 127.5,647.5 132.5,646.3 137.5,643.8 142.5,645 148.8,643.8 155,642.5 161.3,643.1 166.9,640.6 171.3,643.8 180,643.8 187.5,645.6 192.5,644.4 196.3,640.6 200,636.9 203.8,637.5 207.5,636.3 210,632.5 212.5,625.6 213.8,629.4 218.8,633.1 222.5,627.5 225.7,625.3 230.6,628.2 234.2,625.3 238.5,615.4 240.6,596.2 243.4,607.6 247,591.9 248.4,596.2 251.2,588.4 254.4,567.8 256.9,592.7 260.5,601.2 261.9,619.6 265.4,626.7 268.3,618.2 270.4,623.9 274,625.3 276.8,628.9 279.6,626.7 282.5,632.4 285.3,633.8 288.9,642.3 292.4,639.5 295.3,637.4 298.1,639.5 303.8,631 306.6,636.7 312.3,637.4 316.5,640.9 322.2,640.2 325.1,640.2 330.7,633.1 334.3,624.6 337.8,628.9 343.5,628.2 350.6,624.6 355.7,626.8 360.7,625.3 363.5,609 364.9,619.7 368.5,615.4 370.6,621.1 372.7,636.7 375.6,641 379.8,638.1 385.5,633.9 389.1,629.6 392.6,620.4 396.2,615.4 396.9,609 399.7,618.2 402.6,609.7 405.4,596.9 407.5,587.7 412.5,592.7 416.1,587.7 419.6,604 423.9,596.9 427.1,598.3 430,607.5 433.5,602.5 435.7,605.4 439.9,591.2 443.5,594 446.3,601.1 448.5,594 450.6,592.6 454.1,596.1 457.7,589.7 462.7,579.8 464.8,589.7 469.1,588.3 473.3,591.2 476.2,596.9 478.3,606.1 481.1,599.7 483.3,608.2 486.1,614.6 489,604 491.1,608.9 494.6,596.9 497.5,604 498.9,592.6 502.5,589.7 506.7,586.9 509.6,579.8 512.4,575.5 516,565.6 518.8,574.1 523.8,578.4 526.6,567 529.5,557.1 531.5,543.1 532.9,528.2 536.3,543.1 538.9,528.2 540.8,527.2 542.8,513.3 545.8,499.4 546.8,479.6 547.8,449.8 548.8,429.9 549.8,451.8 550.8,477.6 552.8,496.5 554.7,485.5 556.7,475.6" fill="none" stroke="#000" stroke-width="1.0" stroke-linejoin="round"/><g clip-path="url(#c_pall)" fill="none" stroke="#000" stroke-linejoin="round" stroke-linecap="round"><polyline points="88.1,645 90,644.42 91.9,644.4 93.15,646.33 94.4,647.5 96.27,647.64 98.13,648.7 100,648.8 101.67,647.42 103.33,647.42 105,646.3 107.2,647.47 109.4,649.4 111.27,649.07 113.13,647.45 115,647.5 117.1,648.58 119.2,648.41 121.3,649.4 123.37,649.18 125.43,647.52 127.5,647.5 130,647.29 132.5,646.3 134.17,644.86 135.83,645.03 137.5,643.8 140,644.06 142.5,645 144.6,645.25 146.7,643.97 148.8,643.8 150.87,644.02 152.93,642.56 155,642.5 157.1,643.27 159.2,642.47 161.3,643.1 163.17,642.52 165.03,641.19 166.9,640.6 168.37,641.92 169.83,642.47 171.3,643.8 173.48,644.1 175.65,643.46 177.82,644.12 180,643.8 181.88,643.7 183.75,645.14 185.62,644.85 187.5,645.6 190,645.23 192.5,644.4 194.4,641.97 196.3,640.6 198.15,639.23 200,636.9 201.9,636.54 203.8,637.5 205.65,637.18 207.5,636.3 208.75,634.09 210,632.5 210.62,631.44 211.25,628.71 211.88,627.99 212.5,625.6 213.15,626.8 213.8,629.4 215.47,631.1 217.13,631.3 218.8,633.1 220.03,631.52 221.27,628.75 222.5,627.5 224.1,626.91 225.7,625.3 227.33,625.8 228.97,627.45 230.6,628.2 232.4,626.2 234.2,625.3 235.06,623.83 235.92,620.93 236.78,620.06 237.64,616.65 238.5,615.4 238.71,614.26 238.92,611.2 239.13,610.57 239.34,607.43 239.55,606.56 239.76,603.12 239.97,602.51 240.18,599.47 240.39,598.56 240.6,596.2 241.07,597.56 241.53,600.46 242,601.11 242.47,604.47 242.93,604.9 243.4,607.6 243.85,606.39 244.3,603.09 244.75,602.35 245.2,599.44 245.65,598.3 246.1,595.19 246.55,594.46 247,591.9 247.7,593.1 248.4,596.2 249.1,594.74 249.8,591.49 250.5,591.09 251.2,588.4 251.49,586.06 251.78,585.58 252.07,582.25 252.36,581.42 252.65,578.17 252.95,577.66 253.24,574.29 253.53,573.92 253.82,571.05 254.11,570.07 254.4,567.8 254.59,568.8 254.78,572.46 254.98,572.46 255.17,576.74 255.36,576.99 255.55,580.03 255.75,580.19 255.94,583.79 256.13,583.85 256.32,587.66 256.52,588.15 256.71,591.65 256.9,592.7 257.62,593.3 258.34,596.93 259.06,597.16 259.78,600.58 260.5,601.2 260.64,602.04 260.78,605.45 260.92,606.19 261.06,609 261.2,609.54 261.34,613.22 261.48,613.36 261.62,616.95 261.76,617.15 261.9,619.6 262.77,621.93 263.65,622.51 264.52,625.44 265.4,626.7 266.12,624.1 266.85,622.73 267.57,619.88 268.3,618.2 269,620.62 269.7,621.47 270.4,623.9 272.2,625.18 274,625.3 275.4,626.86 276.8,628.9 279.6,626.7 280.57,629.16 281.53,630.06 282.5,632.4 285.3,633.8 286.02,636.06 286.74,636.67 287.46,639.6 288.18,640.2 288.9,642.3 290.65,641.26 292.4,639.5 295.3,637.4 298.1,639.5 299.24,637.55 300.38,636.78 301.52,633.98 302.66,633.09 303.8,631 304.73,632.26 305.67,635.15 306.6,636.7 308.5,636.24 310.4,637.6 312.3,637.4 313.7,638 315.1,640.09 316.5,640.9 318.4,640.36 320.3,640.67 322.2,640.2 325.1,640.2 326.22,638.38 327.34,637.73 328.46,635.69 329.58,635.09 330.7,633.1 331.42,631.08 332.14,630.13 332.86,627.64 333.58,626.76 334.3,624.6 335.47,625.43 336.63,628.08 337.8,628.9 339.7,628.23 341.6,628.82 343.5,628.2 345.27,626.83 347.05,627.04 348.83,624.98 350.6,624.6 352.3,625.84 354,625.75 355.7,626.8 358.2,626.35 360.7,625.3 361.01,623.1 361.32,621.99 361.63,619.19 361.94,618.39 362.26,615.97 362.57,614.67 362.88,612.38 363.19,611.47 363.5,609 363.78,610.5 364.06,613.51 364.34,615.04 364.62,618.01 364.9,619.7 366.1,617.56 367.3,617.57 368.5,615.4 369.2,617 369.9,619.9 370.6,621.1 370.86,622.5 371.12,625.32 371.39,626.66 371.65,629.27 371.91,630.29 372.18,633.48 372.44,634.24 372.7,636.7 374.15,639.46 375.6,641 377.7,639.18 379.8,638.1 381.7,637.13 383.6,634.87 385.5,633.9 386.7,632.81 387.9,630.56 389.1,629.6 389.8,628.09 390.5,625.29 391.2,624.65 391.9,621.74 392.6,620.4 393.8,618.96 395,616.78 396.2,615.4 396.43,613.91 396.67,610.81 396.9,609 397.46,611.34 398.02,612.05 398.58,615.14 399.14,615.75 399.7,618.2 400.43,616.34 401.15,613.44 401.88,612.56 402.6,609.7 403,607.23 403.4,606.52 403.8,603.9 404.2,602.73 404.6,600.23 405,599.14 405.4,596.9 405.82,594.74 406.24,593.76 406.66,590.74 407.08,589.8 407.5,587.7 409.17,589.08 410.83,591.59 412.5,592.7 413.7,590.52 414.9,589.84 416.1,587.7 416.49,589.12 416.88,591.86 417.27,592.79 417.66,595.21 418.04,596.12 418.43,598.93 418.82,600.01 419.21,602.49 419.6,604 420.68,601.79 421.75,600.68 422.82,598.19 423.9,596.9 427.1,598.3 427.68,600.6 428.26,601.44 428.84,604.3 429.42,604.97 430,607.5 431.17,606.25 432.33,603.51 433.5,602.5 434.6,604.38 435.7,605.4 436.22,603.18 436.75,602.28 437.27,599.44 437.8,598.93 438.32,596.03 438.85,595.01 439.38,592.66 439.9,591.2 441.7,593.14 443.5,594 444.2,595.11 444.9,598.02 445.6,598.99 446.3,601.1 446.85,600.02 447.4,596.9 447.95,596.13 448.5,594 450.6,592.6 452.35,594.08 454.1,596.1 455,595.06 455.9,592.39 456.8,591.95 457.7,589.7 458.53,587.5 459.37,586.69 460.2,584.23 461.03,583.39 461.87,580.76 462.7,579.8 463.12,582.07 463.54,583.39 463.96,586.32 464.38,587.35 464.8,589.7 466.95,589.39 469.1,588.3 471.2,589.37 473.3,591.2 474.27,593.66 475.23,594.74 476.2,596.9 476.62,599.08 477.04,600.25 477.46,602.98 477.88,603.65 478.3,606.1 479.23,604.42 480.17,601.31 481.1,599.7 481.65,602.33 482.2,603.45 482.75,606.57 483.3,608.2 484.23,609.81 485.17,613.07 486.1,614.6 486.58,612.3 487.07,611.49 487.55,609.03 488.03,608.22 488.52,605.34 489,604 490.05,606.73 491.1,608.9 491.68,606.47 492.27,605.13 492.85,602.55 493.43,601.43 494.02,598.35 494.6,596.9 495.33,599.2 496.05,600.13 496.77,602.77 497.5,604 497.73,601.63 497.97,600.42 498.2,597.71 498.43,597.02 498.67,594.21 498.9,592.6 500.7,591.54 502.5,589.7 504.6,587.99 506.7,586.9 507.43,585.37 508.15,582.95 508.88,581.89 509.6,579.8 511,577.19 512.4,575.5 513.12,573.79 513.84,571.1 514.56,570.02 515.28,567.14 516,565.6 516.7,568.21 517.4,569.62 518.1,572.6 518.8,574.1 520.47,574.87 522.13,577.33 523.8,578.4 524.27,575.81 524.73,575.08 525.2,572.37 525.67,571.14 526.13,568.3 526.6,567 527.18,565.44 527.76,562.55 528.34,561.58 528.92,558.66 529.5,557.1 529.79,556.05 530.07,552.61 530.36,551.72 530.64,548.58 530.93,548.08 531.21,544.67 531.5,543.1 531.67,542.02 531.85,538.43 532.02,537.97 532.2,534.66 532.38,534.38 532.55,531.15 532.73,530.49 532.9,528.2 533.32,529.19 533.75,532.39 534.17,533.27 534.6,536.28 535.02,537.18 535.45,539.8 535.88,540.88 536.3,543.1 536.62,541.74 536.95,538.98 537.27,538.4 537.6,535.31 537.92,534.18 538.25,531.47 538.57,530.58 538.9,528.2 540.8,527.2 541.09,524.45 541.37,523.74 541.66,520.52 541.94,519.98 542.23,516.28 542.51,516.05 542.8,513.3 543.23,510.73 543.66,509.77 544.09,506.66 544.51,505.86 544.94,502.66 545.37,502.43 545.8,499.4 545.89,496.46 545.98,496.46 546.07,493.5 546.16,493.2 546.25,489.94 546.35,489.62 546.44,486.12 546.53,485.62 546.62,482.62 546.71,481.82 546.8,479.6 546.86,476.84 546.92,476.76 546.99,472.99 547.05,472.97 547.11,469 547.17,469.7 547.24,465.42 547.3,465.99 547.36,461.85 547.42,462.03 547.49,457.72 547.55,458.39 547.61,454.17 547.67,454.69 547.74,450.86 547.8,449.8 547.89,448.82 547.98,444.94 548.07,445.64 548.16,441.69 548.25,441.58 548.35,438.19 548.44,437.86 548.53,434.41 548.62,434.19 548.71,431.03 548.8,429.9 548.88,432.31 548.97,432.72 549.05,436.39 549.13,436.2 549.22,440.11 549.3,440.01 549.38,443.11 549.47,443.34 549.55,446.9 549.63,447.03 549.72,450.49 549.8,451.8 549.87,452.99 549.94,456.37 550.01,456.41 550.09,459.93 550.16,460.16 550.23,464.02 550.3,464.12 550.37,467.11 550.44,467.05 550.51,471.31 550.59,471.47 550.66,475.05 550.73,474.48 550.8,477.6 551,480.25 551.2,480.89 551.4,483.97 551.6,483.94 551.8,487.86 552,487.64 552.2,491.8 552.4,491.97 552.6,495.12 552.8,496.5 553.12,493.74 553.43,493.37 553.75,490.34 554.07,490.04 554.38,486.26 554.7,485.5 555.1,484.18 555.5,481.13 555.9,480.18 556.3,476.64 556.7,475.6" stroke-width="2.9"/><polyline points="88.1,645 91.9,644.4 94.4,647.5 100,648.8 105,646.3 109.4,649.4 115,647.5 121.3,649.4 127.5,647.5 132.5,646.3 137.5,643.8 142.5,645 148.8,643.8 155,642.5 161.3,643.1 166.9,640.6 171.3,643.8 180,643.8 187.5,645.6 192.5,644.4 196.3,640.6 200,636.9 203.8,637.5 207.5,636.3 210,632.5 212.5,625.6 213.8,629.4 218.8,633.1 222.5,627.5 225.7,625.3 230.6,628.2 234.2,625.3 238.5,615.4 240.6,596.2" stroke-width="3.0"/><polyline points="240.6,596.2 243.4,607.6 247,591.9 248.4,596.2 251.2,588.4 254.4,567.8 256.9,592.7 260.5,601.2" stroke-width="3.5"/><polyline points="260.5,601.2 261.9,619.6 265.4,626.7 268.3,618.2 270.4,623.9 274,625.3 276.8,628.9 279.6,626.7 282.5,632.4 285.3,633.8 288.9,642.3 292.4,639.5 295.3,637.4 298.1,639.5 303.8,631 306.6,636.7 312.3,637.4 316.5,640.9 322.2,640.2 325.1,640.2 330.7,633.1 334.3,624.6 337.8,628.9 343.5,628.2 350.6,624.6 355.7,626.8 360.7,625.3 363.5,609 364.9,619.7 368.5,615.4 370.6,621.1 372.7,636.7 375.6,641 379.8,638.1 385.5,633.9 389.1,629.6 392.6,620.4 396.2,615.4 396.9,609 399.7,618.2 402.6,609.7 405.4,596.9 407.5,587.7 412.5,592.7 416.1,587.7 419.6,604 423.9,596.9 427.1,598.3 430,607.5 433.5,602.5 435.7,605.4 439.9,591.2 443.5,594 446.3,601.1 448.5,594 450.6,592.6 454.1,596.1 457.7,589.7 462.7,579.8 464.8,589.7 469.1,588.3 473.3,591.2 476.2,596.9 478.3,606.1 481.1,599.7 483.3,608.2 486.1,614.6 489,604 491.1,608.9 494.6,596.9 497.5,604 498.9,592.6 502.5,589.7 506.7,586.9 509.6,579.8 512.4,575.5 516,565.6 518.8,574.1 523.8,578.4 526.6,567 529.5,557.1 531.5,543.1 532.9,528.2 536.3,543.1 538.9,528.2 540.8,527.2 542.8,513.3 545.8,499.4 546.8,479.6 547.8,449.8 548.8,429.9 549.8,451.8 550.8,477.6 552.8,496.5 554.7,485.5 556.7,475.6" stroke-width="3.0"/></g><rect x="70" y="421.5" width="504.6" height="235.8" fill="none" stroke="#444" stroke-width="1.6"/><line x1="83.5" y1="657.3" x2="83.5" y2="669.3" stroke="#444" stroke-width="1.6"/><text transform="translate(83.5,702) scale(0.68,1)" text-anchor="middle" font-size="22.5" fill="#222">1990</text><line x1="160.53" y1="657.3" x2="160.53" y2="669.3" stroke="#444" stroke-width="1.6"/><text transform="translate(160.53,702) scale(0.68,1)" text-anchor="middle" font-size="22.5" fill="#222">1995</text><line x1="237.57" y1="657.3" x2="237.57" y2="669.3" stroke="#444" stroke-width="1.6"/><text transform="translate(237.57,702) scale(0.68,1)" text-anchor="middle" font-size="22.5" fill="#222">2000</text><line x1="314.6" y1="657.3" x2="314.6" y2="669.3" stroke="#444" stroke-width="1.6"/><text transform="translate(314.6,702) scale(0.68,1)" text-anchor="middle" font-size="22.5" fill="#222">2005</text><line x1="391.63" y1="657.3" x2="391.63" y2="669.3" stroke="#444" stroke-width="1.6"/><text transform="translate(391.63,702) scale(0.68,1)" text-anchor="middle" font-size="22.5" fill="#222">2010</text><line x1="468.67" y1="657.3" x2="468.67" y2="669.3" stroke="#444" stroke-width="1.6"/><text transform="translate(468.67,702) scale(0.68,1)" text-anchor="middle" font-size="22.5" fill="#222">2015</text><line x1="545.7" y1="657.3" x2="545.7" y2="669.3" stroke="#444" stroke-width="1.6"/><text transform="translate(545.7,702) scale(0.68,1)" text-anchor="middle" font-size="22.5" fill="#222">2020</text><line x1="61" y1="655.1" x2="70" y2="655.1" stroke="#444" stroke-width="1.6"/><text transform="translate(49.2,654.3) scale(0.78,1) rotate(-90)" text-anchor="middle" font-size="21" fill="#222">0</text><line x1="61" y1="613.6" x2="70" y2="613.6" stroke="#444" stroke-width="1.6"/><text transform="translate(49.2,612.8) scale(0.78,1) rotate(-90)" text-anchor="middle" font-size="21" fill="#222">500</text><line x1="61" y1="572.7" x2="70" y2="572.7" stroke="#444" stroke-width="1.6"/><line x1="61" y1="531.2" x2="70" y2="531.2" stroke="#444" stroke-width="1.6"/><text transform="translate(49.2,530.4) scale(0.78,1) rotate(-90)" text-anchor="middle" font-size="21" fill="#222">1500</text><line x1="61" y1="490" x2="70" y2="490" stroke="#444" stroke-width="1.6"/><line x1="61" y1="448" x2="70" y2="448" stroke="#444" stroke-width="1.6"/><text transform="translate(49.2,447.2) scale(0.78,1) rotate(-90)" text-anchor="middle" font-size="21" fill="#222">2500</text><text transform="translate(13.6,539.1) scale(0.72,1) rotate(-90)" text-anchor="middle" font-size="20.7" fill="#222" textLength="175.3" lengthAdjust="spacingAndGlyphs">Price ($/troy ounce)</text><text x="234.1" y="387.9" font-family='"Liberation Serif", serif' font-weight="bold" font-style="italic" font-size="26.3" textLength="109.8" lengthAdjust="spacingAndGlyphs">Palladium</text></g>
<g font-family='"Liberation Sans", sans-serif'><rect x="741.6" y="412.5" width="23.3" height="242.6" fill="#00ff00"/><rect x="804" y="412.5" width="6.4" height="242.6" fill="#00ff00"/><rect x="879.3" y="412.5" width="4.7" height="242.6" fill="#00ff00"/><rect x="886.5" y="412.5" width="4.8" height="242.6" fill="#00ff00"/><rect x="932.3" y="412.5" width="7.7" height="242.6" fill="#00ff00"/><rect x="941.1" y="412.5" width="5.3" height="242.6" fill="#00ff00"/><rect x="956.9" y="412.5" width="46" height="242.6" fill="#00ff00"/><rect x="1093.1" y="412.5" width="20.6" height="242.6" fill="#00ff00"/><polyline points="703.8,613.8 705.6,617.5 708.1,623.1 710.6,623.8 712.1,611.3 713.1,622.5 715.6,620.6 718.8,621.3 720.6,625.6 724.4,627.5 726.9,624.4 730,621.9 733.1,628.1 735.6,624.4 738.8,627.5 741.3,634.4 746.3,636.9 750,639.4 753.8,643.8 756.3,640.6 757.5,645 760,641.3 762.5,643.1 765,638.1 767.5,641.3 771.3,642.5 775,641.9 778.8,636.9 781.3,635.6 783.1,642.5 787.5,638.8 791.3,636.3 796.3,633.1 800,635.6 803.8,635.6 807.5,631.3 810,633.1 815,635 820,635.6 825,636.9 828.8,639.4 832.5,643.1 836.3,638.1 839.4,631.9 842.5,633.1 845.6,641.9 850,636.4 853.3,641.3 857.4,644.6 863.1,640.5 868.8,643.8 872.1,634.8 876.2,625 878.6,625 881.1,615.2 884.3,611.9 887.6,613.6 890,611.1 893.3,610.3 894.9,616.8 897.4,628.3 900.7,634 903.9,628.3 908.8,618.5 912.1,620.9 917,611.9 920.3,602.9 922.7,611.9 926.8,602.9 930.1,597.2 932.5,588.2 936.6,576.8 939.9,587.4 943.2,580 947.3,582.5 953,579.2 955.1,577.5 957.7,571.1 961.5,564.7 965.3,551.9 968.4,526.3 971.7,535.3 974.8,550.6 978.1,535.3 982,527.6 985.8,530.2 988.4,509.7 990.9,502 993,473.9 994,421.5 996,448.4 998.1,431.7 999.9,473.9 1001.9,525.1 1003.7,581.3 1007.5,563.4 1011.4,545.5 1015.2,535.3 1019,512.3 1022.9,496.9 1025.4,471.4 1026.7,494.4 1030.5,496.9 1032.3,478.6 1036.8,465 1040.2,460.5 1042.5,469.5 1044.8,460.5 1047,501.4 1050,519.5 1052.7,474.1 1055,503.6 1057.3,512.7 1060.7,480.9 1063,494.5 1065.9,478.6 1068.6,496.8 1072,524.1 1074.3,499.1 1077.7,518.4 1082.3,510.5 1086.8,504.8 1089.5,512.7 1091.4,535.5 1093.6,537.7 1100.5,551.4 1107.3,583.2 1110.7,569.5 1114.1,560.5 1117.5,544.5 1119.8,560.5 1121.3,566.3 1123.4,576.5 1126,559.5 1128.1,567.2 1130.7,573.1 1132.8,563.3 1134.5,573.1 1139.2,562.5 1141.3,570.6 1143.9,577.4 1147.3,588.5 1149.8,583.4 1152.4,588.5 1156.7,577.4 1158.8,588.5 1162.2,570.6 1164.3,575.7 1168.2,566.3 1169.4,584.2 1170.7,597 1172.4,585.1 1174.6,585.9 1176.7,571.4" fill="none" stroke="#000" stroke-width="1.0" stroke-linejoin="round"/><g clip-path="url(#c_plat)" fill="none" stroke="#000" stroke-linejoin="round" stroke-linecap="round"><polyline points="703.8,613.8 704.7,614.98 705.6,617.5 706.43,619.77 707.27,620.62 708.1,623.1 710.6,623.8 710.85,622.05 711.1,619.19 711.35,617.89 711.6,614.99 711.85,613.63 712.1,611.3 712.27,612.75 712.43,615.4 712.6,616.67 712.77,619.38 712.93,619.98 713.1,622.5 715.6,620.6 718.8,621.3 719.7,623.73 720.6,625.6 722.5,626.03 724.4,627.5 725.65,626.42 726.9,624.4 728.45,622.73 730,621.9 731.03,624.47 732.07,625.5 733.1,628.1 734.35,626.6 735.6,624.4 737.2,625.56 738.8,627.5 739.42,629.68 740.05,630.25 740.67,633.34 741.3,634.4 742.97,634.64 744.63,636.5 746.3,636.9 748.15,637.49 750,639.4 751.27,641.56 752.53,641.69 753.8,643.8 755.05,642.51 756.3,640.6 756.9,642.39 757.5,645 758.75,643.47 760,641.3 762.5,643.1 763.33,641 764.17,640.4 765,638.1 766.25,639.25 767.5,641.3 769.4,642.27 771.3,642.5 773.15,641.91 775,641.9 776.27,640.51 777.53,637.95 778.8,636.9 781.3,635.6 781.9,638.58 782.5,639.55 783.1,642.5 784.57,641.48 786.03,639.69 787.5,638.8 789.4,637.83 791.3,636.3 792.97,634.8 794.63,634.48 796.3,633.1 798.15,633.9 800,635.6 801.9,636.03 803.8,635.6 805.03,633.65 806.27,633.2 807.5,631.3 810,633.1 812.5,633.59 815,635 817.5,635.53 820,635.6 822.5,635.58 825,636.9 826.9,638.57 828.8,639.4 830.65,640.61 832.5,643.1 833.77,641.8 835.03,639.51 836.3,638.1 837.33,636.73 838.37,633.52 839.4,631.9 842.5,633.1 843.12,635.15 843.74,635.94 844.36,639.04 844.98,639.88 845.6,641.9 847.07,640.74 848.53,637.96 850,636.4 851.1,638.31 852.2,639.38 853.3,641.3 855.35,643.59 857.4,644.6 859.3,642.73 861.2,642.35 863.1,640.5 865,641.05 866.9,643.05 868.8,643.8 869.46,641.76 870.12,640.45 870.78,638.07 871.44,637.1 872.1,634.8 872.92,632.59 873.74,631.11 874.56,628.61 875.38,627.18 876.2,625 878.6,625 879.1,622.8 879.6,621.36 880.1,618.85 880.6,617.53 881.1,615.2 882.7,612.92 884.3,611.9 885.95,613.29 887.6,613.6 890,611.1 893.3,610.3 893.83,612.25 894.37,614.88 894.9,616.8 895.32,618.34 895.73,621.07 896.15,622.12 896.57,624.94 896.98,625.82 897.4,628.3 898.5,630.72 899.6,631.77 900.7,634 901.77,632.44 902.83,629.5 903.9,628.3 904.72,627.13 905.53,624.37 906.35,624.06 907.17,621.16 907.98,620.65 908.8,618.5 910.45,619.13 912.1,620.9 913.08,619.45 914.06,616.99 915.04,615.9 916.02,613.4 917,611.9 917.66,610.4 918.32,608.04 918.98,606.8 919.64,604.48 920.3,602.9 920.78,604.98 921.26,605.93 921.74,608.53 922.22,609.54 922.7,611.9 923.52,610.66 924.34,608.01 925.16,606.94 925.98,604.19 926.8,602.9 927.9,601.68 929,598.59 930.1,597.2 930.58,595.69 931.06,593.35 931.54,592.11 932.02,589.71 932.5,588.2 933.18,586.91 933.87,583.77 934.55,582.76 935.23,580.01 935.92,579.36 936.6,576.8 937.15,578.25 937.7,580.79 938.25,581.78 938.8,584.28 939.35,585.05 939.9,587.4 940.73,585.86 941.55,583.24 942.38,582.37 943.2,580 945.25,580.61 947.3,582.5 949.2,582.08 951.1,579.65 953,579.2 955.1,577.5 955.97,575.77 956.83,572.85 957.7,571.1 958.65,570.29 959.6,567.14 960.55,567.03 961.5,564.7 962.04,562.17 962.59,561.98 963.13,558.84 963.67,557.8 964.21,554.76 964.76,554.2 965.3,551.9 965.52,549.25 965.74,549.02 965.96,545.61 966.19,545.12 966.41,541.68 966.63,541.7 966.85,538.77 967.07,537.85 967.29,534.71 967.51,534.62 967.74,530.98 967.96,531.02 968.18,527.54 968.4,526.3 969.06,528.52 969.72,529.13 970.38,532.87 971.04,532.65 971.7,535.3 972.09,538.26 972.48,538.09 972.86,542.12 973.25,542.19 973.64,545.23 974.02,545.96 974.41,549.12 974.8,550.6 975.21,548.24 975.62,547.15 976.04,544.42 976.45,543.46 976.86,540.41 977.27,539.9 977.69,536.5 978.1,535.3 979.08,534.23 980.05,531.05 981.02,530.22 982,527.6 983.9,528.41 985.8,530.2 986.04,528.98 986.27,526.09 986.51,525.27 986.75,521.71 986.98,521.86 987.22,518.08 987.45,517.55 987.69,514.34 987.93,514.05 988.16,510.99 988.4,509.7 989.02,508.68 989.65,505.11 990.27,504.6 990.9,502 991.04,498.82 991.18,499.25 991.32,495.51 991.46,495.45 991.6,492.14 991.74,491.27 991.88,488.43 992.02,487.78 992.16,483.86 992.3,483.72 992.44,480.69 992.58,480.8 992.72,477.03 992.86,476.69 993,473.9 993.03,470.79 993.07,471.45 993.1,467.67 993.14,467.39 993.17,464.18 993.21,463.8 993.24,459.87 993.28,460.43 993.31,456.79 993.34,457.17 993.38,453.22 993.41,452.87 993.45,449.49 993.48,449.13 993.52,445.45 993.55,445.41 993.59,442.4 993.62,441.83 993.66,438.94 993.69,439.04 993.72,435.38 993.76,435.33 993.79,431.28 993.83,431 993.86,427.37 993.9,427.39 993.93,423.88 993.97,424.66 994,421.5 994.14,422.61 994.29,426.13 994.43,426.47 994.57,430.28 994.71,430.07 994.86,433.61 995,434.4 995.14,437.44 995.29,438.29 995.43,441.23 995.57,441.73 995.71,445.11 995.86,445.39 996,448.4 996.23,447.27 996.47,443.34 996.7,443.32 996.93,439.95 997.17,439.99 997.4,436.12 997.63,435.86 997.87,432.95 998.1,431.7 998.18,434.87 998.26,434.49 998.33,437.98 998.41,438.54 998.49,441.87 998.57,441.34 998.65,445.57 998.73,445.02 998.8,449.26 998.88,449.61 998.96,452.91 999.04,452.75 999.12,456.94 999.2,456.19 999.27,460.33 999.35,460.5 999.43,463.74 999.51,463.56 999.59,467.51 999.67,467.4 999.74,470.73 999.82,471.12 999.9,473.9 999.97,476.24 1000.04,477.12 1000.11,480.52 1000.19,480.39 1000.26,483.66 1000.33,483.99 1000.4,487.2 1000.47,487.49 1000.54,491.72 1000.61,490.98 1000.69,495.29 1000.76,494.76 1000.83,499.03 1000.9,498.67 1000.97,501.86 1001.04,502.56 1001.11,505.42 1001.19,506.19 1001.26,509.18 1001.33,509.89 1001.4,513.46 1001.47,513.34 1001.54,516.7 1001.61,517.25 1001.69,520.79 1001.76,520.77 1001.83,524.56 1001.9,525.1 1001.96,526.4 1002.02,529.16 1002.07,529.31 1002.13,533.25 1002.19,532.91 1002.25,537.09 1002.31,536.68 1002.36,540.28 1002.42,540.36 1002.48,543.75 1002.54,543.73 1002.6,548.11 1002.65,547.63 1002.71,551.01 1002.77,551.66 1002.83,554.97 1002.89,555.37 1002.95,559.1 1003,558.22 1003.06,562.25 1003.12,562.52 1003.18,565.9 1003.24,565.41 1003.29,569.47 1003.35,569.28 1003.41,573.1 1003.47,573.5 1003.53,576.58 1003.58,576.84 1003.64,580.58 1003.7,581.3 1004.08,578.71 1004.46,578.36 1004.84,575.43 1005.22,575.48 1005.6,571.1 1005.98,571.4 1006.36,567.61 1006.74,567.8 1007.12,564.51 1007.5,563.4 1007.89,562.1 1008.28,558.79 1008.67,558.46 1009.06,554.94 1009.45,555.02 1009.84,551.33 1010.23,551.68 1010.62,548 1011.01,547.9 1011.4,545.5 1012.03,543.2 1012.67,543.23 1013.3,539.48 1013.93,539.63 1014.57,536.25 1015.2,535.3 1015.52,534.41 1015.83,530.09 1016.15,530.92 1016.47,526.36 1016.78,526.67 1017.1,522.95 1017.42,523.14 1017.73,518.74 1018.05,518.85 1018.37,515.21 1018.68,514.64 1019,512.3 1019.49,509.34 1019.98,509.37 1020.46,505.98 1020.95,505.95 1021.44,501.56 1021.92,501.66 1022.41,497.59 1022.9,496.9 1023.08,496.05 1023.26,492.34 1023.44,491.87 1023.61,488.5 1023.79,488.69 1023.97,485.04 1024.15,485.14 1024.33,481.19 1024.51,481.61 1024.69,477.6 1024.86,478.26 1025.04,474.23 1025.22,474.6 1025.4,471.4 1025.51,472.82 1025.62,476.45 1025.73,476.18 1025.83,479.93 1025.94,480.33 1026.05,483.45 1026.16,484.05 1026.27,487.6 1026.38,488.24 1026.48,491.64 1026.59,491.25 1026.7,494.4 1028.6,496.58 1030.5,496.9 1030.68,494.28 1030.86,493.61 1031.04,490.88 1031.22,489.89 1031.4,486.77 1031.58,486.87 1031.76,483.48 1031.94,482.72 1032.12,479.7 1032.3,478.6 1032.94,477.3 1033.59,474.38 1034.23,473.13 1034.87,470.17 1035.51,469.48 1036.16,466.63 1036.8,465 1037.93,463.96 1039.07,461.24 1040.2,460.5 1040.66,463.19 1041.12,462.87 1041.58,467.06 1042.04,466.95 1042.5,469.5 1042.96,468.94 1043.42,465.47 1043.88,465.05 1044.34,461.02 1044.8,460.5 1044.9,462.96 1045,463.01 1045.1,466.89 1045.2,467.48 1045.3,470.67 1045.4,470.43 1045.5,474.35 1045.6,474.88 1045.7,477.92 1045.8,478.21 1045.9,482.09 1046,482.29 1046.1,485.68 1046.2,485.8 1046.3,489.31 1046.4,488.89 1046.5,493.35 1046.6,493.49 1046.7,496.96 1046.8,496.75 1046.9,500.45 1047,501.4 1047.3,501.87 1047.6,506.17 1047.9,506.35 1048.2,509.68 1048.5,509.15 1048.8,512.86 1049.1,513.17 1049.4,516.33 1049.7,516.54 1050,519.5 1050.11,518.34 1050.22,514.86 1050.32,514.98 1050.43,511 1050.54,511.22 1050.65,508.13 1050.76,507.61 1050.86,503.63 1050.97,504.05 1051.08,500.78 1051.19,500.3 1051.3,497.07 1051.4,496.77 1051.51,492.79 1051.62,493.66 1051.73,489.3 1051.84,489.81 1051.94,486.04 1052.05,486.22 1052.16,482.15 1052.27,482.25 1052.38,478.51 1052.48,478.35 1052.59,475.49 1052.7,474.1 1052.84,476.9 1052.99,476.55 1053.13,480.34 1053.28,480.27 1053.42,483.98 1053.56,484.34 1053.71,487.92 1053.85,487.86 1053.99,491.56 1054.14,491.89 1054.28,495.63 1054.42,495.12 1054.57,498.7 1054.71,498.59 1054.86,503.15 1055,503.6 1055.46,504.77 1055.92,508.35 1056.38,508.22 1056.84,511.73 1057.3,512.7 1057.5,509.46 1057.7,509.54 1057.9,506.46 1058.1,505.85 1058.3,502.75 1058.5,502.84 1058.7,499.04 1058.9,498.74 1059.1,494.83 1059.3,495.27 1059.5,490.99 1059.7,491.23 1059.9,487.08 1060.1,487.59 1060.3,483.5 1060.5,483.21 1060.7,480.9 1061.03,482.07 1061.36,485.35 1061.69,486.11 1062.01,489.96 1062.34,489.71 1062.67,493.59 1063,494.5 1063.36,492.01 1063.72,491.53 1064.09,487.81 1064.45,487.88 1064.81,483.66 1065.18,483.35 1065.54,480.08 1065.9,478.6 1066.17,481.2 1066.44,481.11 1066.71,484.72 1066.98,484.55 1067.25,488.89 1067.52,489.07 1067.79,491.92 1068.06,492.33 1068.33,495.67 1068.6,496.8 1068.83,497.47 1069.05,500.89 1069.28,501.69 1069.51,505.25 1069.73,504.77 1069.96,508.8 1070.19,508.56 1070.41,512.62 1070.64,511.89 1070.87,516.15 1071.09,515.67 1071.32,519.9 1071.55,519.32 1071.77,523.51 1072,524.1 1072.18,520.96 1072.35,521.52 1072.53,517.08 1072.71,517.38 1072.88,513.13 1073.06,513.42 1073.24,510.13 1073.42,509.46 1073.59,505.5 1073.77,505.55 1073.95,502.21 1074.12,501.66 1074.3,499.1 1074.64,500.43 1074.98,503.87 1075.32,504.1 1075.66,507.5 1076,507.84 1076.34,511.54 1076.68,511.84 1077.02,514.96 1077.36,515.27 1077.7,518.4 1078.62,517.66 1079.54,514.76 1080.46,514.13 1081.38,511.59 1082.3,510.5 1083.42,510.04 1084.55,507.2 1085.67,506.81 1086.8,504.8 1087.47,506.33 1088.15,509.09 1088.83,510.44 1089.5,512.7 1089.66,515.12 1089.82,515.95 1089.97,519.11 1090.13,519.8 1090.29,522.62 1090.45,523.52 1090.61,526.66 1090.77,527.16 1090.93,530.12 1091.08,530.96 1091.24,533.97 1091.4,535.5 1093.6,537.7 1094.46,538.51 1095.32,541.71 1096.19,541.88 1097.05,545.32 1097.91,545.86 1098.78,548.38 1099.64,549.16 1100.5,551.4 1100.88,553.9 1101.26,554.59 1101.63,557.63 1102.01,557.69 1102.39,561.08 1102.77,561.64 1103.14,564.84 1103.52,564.41 1103.9,568.13 1104.28,568.08 1104.66,571.55 1105.03,572.09 1105.41,574.8 1105.79,575.29 1106.17,578.64 1106.54,578.71 1106.92,582.2 1107.3,583.2 1107.79,580.62 1108.27,580.55 1108.76,576.27 1109.24,576.38 1109.73,572.82 1110.21,571.98 1110.7,569.5 1111.38,566.35 1112.06,567.23 1112.74,563.21 1113.42,563.2 1114.1,560.5 1114.48,558.1 1114.86,557.44 1115.23,554.34 1115.61,554.31 1115.99,551 1116.37,550.41 1116.74,547.71 1117.12,546.63 1117.5,544.5 1117.79,545.98 1118.08,548.98 1118.36,549.91 1118.65,553.2 1118.94,553.59 1119.22,556.92 1119.51,557.78 1119.8,560.5 1120.3,563.34 1120.8,563.74 1121.3,566.3 1121.72,569.09 1122.14,570.03 1122.56,572.77 1122.98,573.63 1123.4,576.5 1123.69,575.27 1123.98,572.33 1124.27,571.33 1124.56,568.55 1124.84,567.76 1125.13,564.61 1125.42,563.71 1125.71,560.82 1126,559.5 1126.53,561.88 1127.05,562.78 1127.57,566 1128.1,567.2 1128.97,568.9 1129.83,571.39 1130.7,573.1 1131.12,570.45 1131.54,569.83 1131.96,566.63 1132.38,565.9 1132.8,563.3 1133.14,564.59 1133.48,567.53 1133.82,568.49 1134.16,571.8 1134.5,573.1 1135.28,571.02 1136.07,570.28 1136.85,567.33 1137.63,566.48 1138.42,563.76 1139.2,562.5 1139.72,565.14 1140.25,566.29 1140.78,568.88 1141.3,570.6 1141.95,571.81 1142.6,574.45 1143.25,575.16 1143.9,577.4 1144.47,579.61 1145.03,580.41 1145.6,583.61 1146.17,584.47 1146.73,587.02 1147.3,588.5 1148.13,586.12 1148.97,585.77 1149.8,583.4 1150.67,584.42 1151.53,587.2 1152.4,588.5 1153.12,586.04 1153.83,585.05 1154.55,582.25 1155.27,581.78 1155.98,578.72 1156.7,577.4 1157.05,579.89 1157.4,580.8 1157.75,583.21 1158.1,584.13 1158.45,587.24 1158.8,588.5 1159.14,586.12 1159.48,585.33 1159.82,582.34 1160.16,581.87 1160.5,578.93 1160.84,578.18 1161.18,575.66 1161.52,574.86 1161.86,571.58 1162.2,570.6 1162.9,572.64 1163.6,573.36 1164.3,575.7 1165.08,574.63 1165.86,571 1166.64,570.6 1167.42,567.76 1168.2,566.3 1168.33,569.18 1168.47,569.46 1168.6,573.09 1168.73,573.66 1168.87,576.98 1169,577.54 1169.13,581.01 1169.27,581.65 1169.4,584.2 1169.59,586.86 1169.77,587.53 1169.96,590.06 1170.14,590.74 1170.33,593.73 1170.51,594.48 1170.7,597 1170.98,595.58 1171.27,592.5 1171.55,591.37 1171.83,588.45 1172.12,587.77 1172.4,585.1 1174.6,585.9 1174.86,583.87 1175.12,582.98 1175.39,579.97 1175.65,578.97 1175.91,576.24 1176.17,575.55 1176.44,572.69 1176.7,571.4" stroke-width="2.9"/><polyline points="703.8,613.8 705.6,617.5 708.1,623.1 710.6,623.8 712.1,611.3 713.1,622.5 715.6,620.6 718.8,621.3 720.6,625.6 724.4,627.5 726.9,624.4 730,621.9 733.1,628.1 735.6,624.4 738.8,627.5 741.3,634.4 746.3,636.9 750,639.4 753.8,643.8 756.3,640.6 757.5,645 760,641.3 762.5,643.1 765,638.1 767.5,641.3 771.3,642.5 775,641.9 778.8,636.9 781.3,635.6 783.1,642.5 787.5,638.8 791.3,636.3 796.3,633.1 800,635.6 803.8,635.6 807.5,631.3 810,633.1 815,635 820,635.6 825,636.9 828.8,639.4 832.5,643.1 836.3,638.1 839.4,631.9 842.5,633.1 845.6,641.9 850,636.4 853.3,641.3 857.4,644.6 863.1,640.5 868.8,643.8 872.1,634.8 876.2,625 878.6,625 881.1,615.2 884.3,611.9 887.6,613.6 890,611.1 893.3,610.3 894.9,616.8 897.4,628.3 900.7,634 903.9,628.3 908.8,618.5 912.1,620.9 917,611.9 920.3,602.9 922.7,611.9 926.8,602.9 930.1,597.2 932.5,588.2 936.6,576.8 939.9,587.4 943.2,580 947.3,582.5 953,579.2 955.1,577.5 957.7,571.1 961.5,564.7 965.3,551.9 968.4,526.3 971.7,535.3 974.8,550.6 978.1,535.3 982,527.6 985.8,530.2 988.4,509.7" stroke-width="3.0"/><polyline points="988.4,509.7 990.9,502" stroke-width="4.0"/><polyline points="990.9,502 993,473.9 994,421.5 996,448.4 998.1,431.7 999.9,473.9 1001.9,525.1" stroke-width="4.5"/><polyline points="1001.9,525.1 1003.7,581.3 1007.5,563.4 1011.4,545.5" stroke-width="3.5"/><polyline points="1011.4,545.5 1015.2,535.3 1019,512.3" stroke-width="3.0"/><polyline points="1019,512.3 1022.9,496.9 1025.4,471.4 1026.7,494.4 1030.5,496.9" stroke-width="3.5"/><polyline points="1030.5,496.9 1032.3,478.6 1036.8,465 1040.2,460.5" stroke-width="3.0"/><polyline points="1040.2,460.5 1042.5,469.5" stroke-width="3.5"/><polyline points="1042.5,469.5 1044.8,460.5" stroke-width="4.0"/><polyline points="1044.8,460.5 1047,501.4 1050,519.5 1052.7,474.1 1055,503.6 1057.3,512.7 1060.7,480.9 1063,494.5 1065.9,478.6 1068.6,496.8 1072,524.1" stroke-width="4.5"/><polyline points="1072,524.1 1074.3,499.1 1077.7,518.4" stroke-width="4.0"/><polyline points="1077.7,518.4 1082.3,510.5" stroke-width="3.5"/><polyline points="1082.3,510.5 1086.8,504.8 1089.5,512.7 1091.4,535.5" stroke-width="3.0"/><polyline points="1091.4,535.5 1093.6,537.7 1100.5,551.4 1107.3,583.2 1110.7,569.5 1114.1,560.5" stroke-width="3.5"/><polyline points="1114.1,560.5 1117.5,544.5 1119.8,560.5 1121.3,566.3 1123.4,576.5 1126,559.5 1128.1,567.2 1130.7,573.1 1132.8,563.3 1134.5,573.1 1139.2,562.5 1141.3,570.6 1143.9,577.4 1147.3,588.5 1149.8,583.4 1152.4,588.5" stroke-width="3.0"/><polyline points="1152.4,588.5 1156.7,577.4 1158.8,588.5 1162.2,570.6 1164.3,575.7 1168.2,566.3" stroke-width="3.5"/><polyline points="1168.2,566.3 1169.4,584.2 1170.7,597 1172.4,585.1 1174.6,585.9 1176.7,571.4" stroke-width="3.0"/></g><rect x="686.6" y="412.5" width="508" height="242.6" fill="none" stroke="#444" stroke-width="1.6"/><line x1="728.9" y1="655.1" x2="728.9" y2="667.1" stroke="#444" stroke-width="1.6"/><text transform="translate(728.9,700.3) scale(0.67,1)" text-anchor="middle" font-size="22.5" fill="#222">1990</text><line x1="801.95" y1="655.1" x2="801.95" y2="667.1" stroke="#444" stroke-width="1.6"/><text transform="translate(801.95,700.3) scale(0.67,1)" text-anchor="middle" font-size="22.5" fill="#222">1995</text><line x1="875" y1="655.1" x2="875" y2="667.1" stroke="#444" stroke-width="1.6"/><text transform="translate(875,700.3) scale(0.67,1)" text-anchor="middle" font-size="22.5" fill="#222">2000</text><line x1="948.05" y1="655.1" x2="948.05" y2="667.1" stroke="#444" stroke-width="1.6"/><text transform="translate(948.05,700.3) scale(0.67,1)" text-anchor="middle" font-size="22.5" fill="#222">2005</text><line x1="1021.1" y1="655.1" x2="1021.1" y2="667.1" stroke="#444" stroke-width="1.6"/><text transform="translate(1021.1,700.3) scale(0.67,1)" text-anchor="middle" font-size="22.5" fill="#222">2010</text><line x1="1094.15" y1="655.1" x2="1094.15" y2="667.1" stroke="#444" stroke-width="1.6"/><text transform="translate(1094.15,700.3) scale(0.67,1)" text-anchor="middle" font-size="22.5" fill="#222">2015</text><line x1="1167.2" y1="655.1" x2="1167.2" y2="667.1" stroke="#444" stroke-width="1.6"/><text transform="translate(1167.2,700.3) scale(0.67,1)" text-anchor="middle" font-size="22.5" fill="#222">2020</text><line x1="677.6" y1="625.3" x2="686.6" y2="625.3" stroke="#444" stroke-width="1.6"/><text transform="translate(665.6,624.5) scale(0.78,1) rotate(-90)" text-anchor="middle" font-size="21.3" fill="#222">500</text><line x1="677.6" y1="562.6" x2="686.6" y2="562.6" stroke="#444" stroke-width="1.6"/><text transform="translate(665.6,561.8) scale(0.78,1) rotate(-90)" text-anchor="middle" font-size="21.3" fill="#222">1000</text><line x1="677.6" y1="501.9" x2="686.6" y2="501.9" stroke="#444" stroke-width="1.6"/><line x1="677.6" y1="439.5" x2="686.6" y2="439.5" stroke="#444" stroke-width="1.6"/><text transform="translate(665.6,438.7) scale(0.78,1) rotate(-90)" text-anchor="middle" font-size="21.3" fill="#222">2000</text><text transform="translate(630.2,533.2) scale(0.72,1) rotate(-90)" text-anchor="middle" font-size="20.7" fill="#222" textLength="179.5" lengthAdjust="spacingAndGlyphs">Price ($/troy ounce)</text><text x="856.4" y="387.9" font-family='"Liberation Serif", serif' font-weight="bold" font-style="italic" font-size="26.3" textLength="99.6" lengthAdjust="spacingAndGlyphs">Platinum</text></g>
</svg></body></html>
